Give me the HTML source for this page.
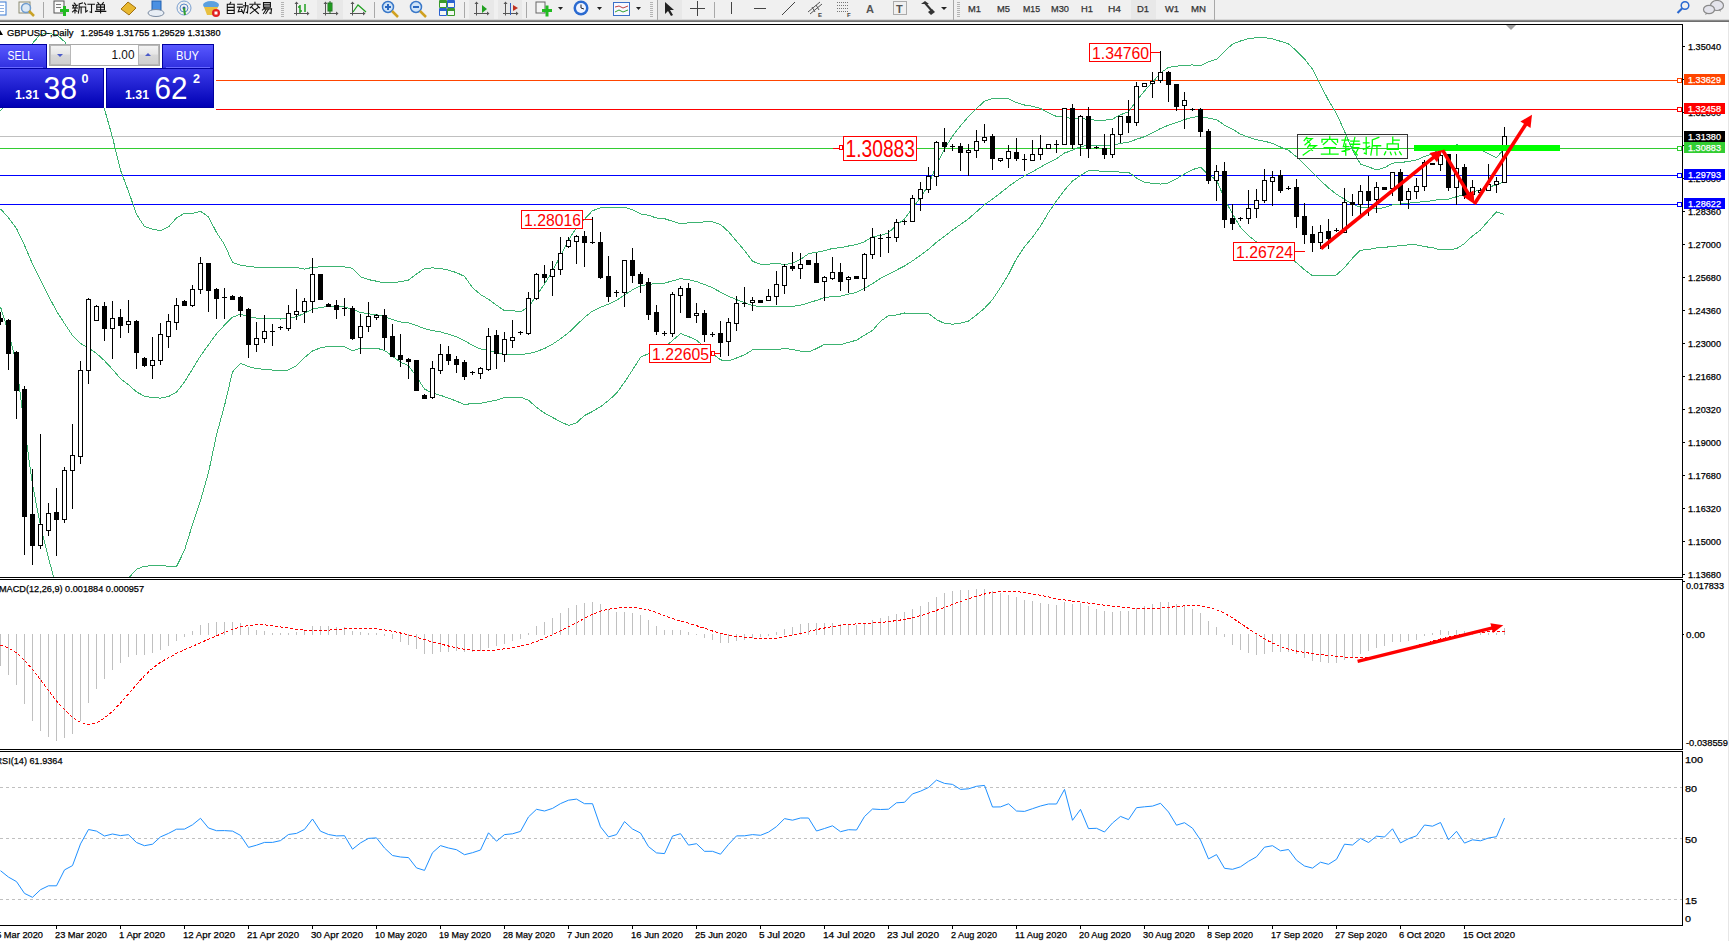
<!DOCTYPE html>
<html><head><meta charset="utf-8"><style>
html,body{margin:0;padding:0;background:#fff;width:1729px;height:941px;overflow:hidden}
svg{display:block}
text{font-family:"Liberation Sans",sans-serif}
</style></head><body>
<svg width="1729" height="941" viewBox="0 0 1729 941">
<rect x="0" y="0" width="1729" height="941" fill="#ffffff"/>
<rect x="1728" y="20" width="1" height="921" fill="#e6e6e6"/>
<rect x="0" y="24" width="1683" height="1" fill="#000" />
<rect x="0" y="577" width="1683" height="1" fill="#000" />
<rect x="1682" y="24" width="1" height="554" fill="#000"/>
<rect x="0" y="579" width="1683" height="1" fill="#000" />
<rect x="0" y="749" width="1683" height="1" fill="#000" />
<rect x="1682" y="579" width="1" height="171" fill="#000"/>
<rect x="0" y="751" width="1683" height="1" fill="#000" />
<rect x="0" y="925" width="1683" height="1" fill="#000" />
<rect x="1682" y="751" width="1" height="175" fill="#000"/>
<rect x="216" y="80" width="1466" height="1" fill="#ff4500" />
<rect x="1677.5" y="78.5" width="4" height="4" fill="#fff" stroke="#ff4500" stroke-width="1" shape-rendering="crispEdges"/>
<rect x="216" y="109" width="1466" height="1" fill="#ff0000" />
<rect x="1677.5" y="107.5" width="4" height="4" fill="#fff" stroke="#ff0000" stroke-width="1" shape-rendering="crispEdges"/>
<rect x="0" y="136" width="1682" height="1" fill="#c0c0c0" />
<rect x="0" y="148" width="1682" height="1" fill="#32cd32" />
<rect x="1677.5" y="146.5" width="4" height="4" fill="#fff" stroke="#32cd32" stroke-width="1" shape-rendering="crispEdges"/>
<rect x="0" y="175" width="1682" height="1" fill="#0000ff" />
<rect x="1677.5" y="173.5" width="4" height="4" fill="#fff" stroke="#0000ff" stroke-width="1" shape-rendering="crispEdges"/>
<rect x="0" y="204" width="1682" height="1" fill="#0000ff" />
<rect x="1677.5" y="202.5" width="4" height="4" fill="#fff" stroke="#0000ff" stroke-width="1" shape-rendering="crispEdges"/>
<defs><clipPath id="cm"><rect x="0" y="25" width="1682" height="552"/></clipPath><clipPath id="cmacd"><rect x="0" y="580" width="1682" height="169"/></clipPath><clipPath id="crsi"><rect x="0" y="752" width="1682" height="173"/></clipPath></defs>
<g shape-rendering="crispEdges" clip-path="url(#cm)">
<polyline points="0.5,110.7 8.5,102.8 16.5,93.3 24.5,63.2 32.5,43.3 40.5,34.3 48.5,33.5 56.5,34.6 64.5,41.6 72.5,52.8 80.5,66.2 88.5,77.2 96.5,90.4 104.5,109.1 112.5,137.3 120.5,170.1 128.5,191.4 136.5,214.3 144.5,226.5 152.5,229.1 160.5,230.8 168.5,226.9 176.5,218.0 184.5,213.2 192.5,213.5 200.5,211.2 208.5,216.9 216.5,232.4 224.5,244.5 232.5,262.5 240.5,265.2 248.5,266.3 256.5,267.3 264.5,267.3 272.5,267.6 280.5,267.7 288.5,267.3 296.5,267.4 304.5,269.2 312.5,267.3 320.5,266.9 328.5,266.6 336.5,266.8 344.5,267.0 352.5,268.2 360.5,276.7 368.5,279.6 376.5,281.2 384.5,282.9 392.5,282.8 400.5,281.7 408.5,280.1 416.5,274.0 424.5,268.5 432.5,267.9 440.5,268.4 448.5,270.2 456.5,272.6 464.5,276.4 472.5,287.6 480.5,294.5 488.5,299.3 496.5,305.2 504.5,310.7 512.5,310.6 520.5,311.8 528.5,307.0 536.5,295.6 544.5,284.0 552.5,271.0 560.5,255.9 568.5,240.3 576.5,227.4 584.5,219.3 592.5,210.7 600.5,207.9 608.5,207.6 616.5,207.9 624.5,207.3 632.5,209.7 640.5,213.9 648.5,215.3 656.5,218.0 664.5,218.7 672.5,221.3 680.5,223.8 688.5,222.8 696.5,223.0 704.5,221.7 712.5,221.9 720.5,224.4 728.5,231.7 736.5,241.2 744.5,250.4 752.5,261.2 760.5,264.3 768.5,264.2 776.5,263.2 784.5,264.6 792.5,263.2 800.5,259.5 808.5,253.7 816.5,252.2 824.5,250.8 832.5,248.4 840.5,247.7 848.5,246.0 856.5,244.5 864.5,241.7 872.5,236.7 880.5,235.5 888.5,232.7 896.5,225.2 904.5,219.0 912.5,208.1 920.5,197.4 928.5,185.0 936.5,164.8 944.5,149.0 952.5,136.0 960.5,125.8 968.5,116.6 976.5,108.5 984.5,101.2 992.5,98.5 1000.5,98.2 1008.5,98.7 1016.5,102.6 1024.5,105.0 1032.5,106.2 1040.5,108.5 1048.5,112.7 1056.5,116.5 1064.5,116.0 1072.5,119.4 1080.5,117.9 1088.5,119.8 1096.5,120.1 1104.5,120.3 1112.5,119.1 1120.5,114.7 1128.5,111.9 1136.5,100.6 1144.5,90.9 1152.5,82.3 1160.5,72.9 1168.5,67.4 1176.5,66.3 1184.5,65.1 1192.5,65.0 1200.5,65.7 1208.5,61.6 1216.5,59.4 1224.5,51.3 1232.5,44.1 1240.5,41.0 1248.5,38.7 1256.5,37.7 1264.5,37.7 1272.5,38.8 1280.5,41.3 1288.5,43.9 1296.5,50.9 1304.5,59.0 1312.5,69.1 1320.5,85.0 1328.5,100.4 1336.5,113.5 1344.5,131.3 1352.5,150.1 1360.5,164.1 1368.5,166.8 1376.5,169.9 1384.5,167.7 1392.5,163.1 1400.5,162.6 1408.5,161.4 1416.5,160.0 1424.5,156.4 1432.5,154.0 1440.5,148.3 1448.5,148.3 1456.5,144.8 1464.5,145.8 1472.5,148.1 1480.5,149.9 1488.5,153.8 1496.5,157.6 1504.5,148.4" fill="none" stroke="#3cb371" stroke-width="1" />
<polyline points="0.5,208.8 8.5,217.7 16.5,228.5 24.5,245.3 32.5,263.9 40.5,280.0 48.5,295.9 56.5,311.1 64.5,323.4 72.5,335.5 80.5,343.4 88.5,348.1 96.5,353.4 104.5,360.7 112.5,369.4 120.5,378.6 128.5,384.8 136.5,391.8 144.5,396.3 152.5,397.5 160.5,398.1 168.5,396.5 176.5,392.3 184.5,381.8 192.5,369.0 200.5,355.9 208.5,344.8 216.5,333.7 224.5,325.1 232.5,317.2 240.5,314.2 248.5,316.4 256.5,318.1 264.5,318.2 272.5,318.9 280.5,319.0 288.5,318.6 296.5,316.6 304.5,313.4 312.5,309.1 320.5,307.4 328.5,306.6 336.5,306.8 344.5,307.0 352.5,309.4 360.5,312.5 368.5,313.8 376.5,314.7 384.5,316.7 392.5,319.5 400.5,322.0 408.5,322.9 416.5,325.4 424.5,328.7 432.5,330.5 440.5,331.9 448.5,334.2 456.5,336.9 464.5,340.6 472.5,345.5 480.5,348.9 488.5,350.4 496.5,352.6 504.5,354.2 512.5,354.1 520.5,354.5 528.5,353.6 536.5,351.5 544.5,348.5 552.5,344.2 560.5,338.8 568.5,332.8 576.5,325.1 584.5,317.4 592.5,311.1 600.5,307.3 608.5,304.1 616.5,300.5 624.5,294.8 632.5,289.9 640.5,285.6 648.5,284.5 656.5,283.4 664.5,283.1 672.5,280.9 680.5,278.7 688.5,279.6 696.5,281.6 704.5,284.5 712.5,287.7 720.5,292.2 728.5,296.3 736.5,299.6 744.5,302.6 752.5,305.5 760.5,306.7 768.5,306.7 776.5,306.3 784.5,306.6 792.5,306.3 800.5,305.3 808.5,302.8 816.5,300.4 824.5,297.6 832.5,296.5 840.5,296.1 848.5,294.2 856.5,292.4 864.5,288.4 872.5,283.6 880.5,278.4 888.5,274.1 896.5,270.1 904.5,266.0 912.5,260.9 920.5,255.3 928.5,249.3 936.5,242.2 944.5,236.2 952.5,230.1 960.5,224.5 968.5,218.8 976.5,211.8 984.5,204.7 992.5,199.0 1000.5,192.9 1008.5,186.6 1016.5,180.7 1024.5,175.9 1032.5,171.7 1040.5,167.2 1048.5,162.6 1056.5,158.7 1064.5,153.0 1072.5,150.3 1080.5,146.6 1088.5,145.2 1096.5,145.4 1104.5,145.8 1112.5,145.2 1120.5,143.4 1128.5,142.1 1136.5,139.3 1144.5,136.7 1152.5,132.8 1160.5,128.5 1168.5,125.2 1176.5,122.5 1184.5,119.6 1192.5,117.3 1200.5,116.5 1208.5,118.2 1216.5,119.6 1224.5,125.1 1232.5,129.1 1240.5,134.2 1248.5,137.2 1256.5,139.8 1264.5,141.2 1272.5,143.4 1280.5,147.0 1288.5,150.3 1296.5,156.8 1304.5,164.4 1312.5,172.4 1320.5,180.4 1328.5,188.0 1336.5,194.2 1344.5,199.4 1352.5,204.2 1360.5,207.2 1368.5,208.1 1376.5,208.9 1384.5,207.5 1392.5,204.9 1400.5,204.0 1408.5,203.2 1416.5,202.4 1424.5,201.5 1432.5,200.8 1440.5,199.1 1448.5,199.1 1456.5,196.7 1464.5,194.7 1472.5,192.0 1480.5,189.9 1488.5,187.2 1496.5,184.8 1504.5,181.5" fill="none" stroke="#3cb371" stroke-width="1" />
<polyline points="0.5,306.8 8.5,332.6 16.5,363.7 24.5,427.4 32.5,484.4 40.5,525.7 48.5,558.2 56.5,587.7 64.5,605.2 72.5,618.2 80.5,620.6 88.5,619.0 96.5,616.5 104.5,612.2 112.5,601.5 120.5,587.1 128.5,578.2 136.5,569.3 144.5,566.1 152.5,565.9 160.5,565.5 168.5,566.2 176.5,566.6 184.5,550.3 192.5,524.5 200.5,500.6 208.5,472.6 216.5,435.0 224.5,405.6 232.5,371.9 240.5,363.2 248.5,366.6 256.5,368.8 264.5,369.2 272.5,370.1 280.5,370.3 288.5,370.0 296.5,365.7 304.5,357.6 312.5,351.0 320.5,347.8 328.5,346.5 336.5,346.7 344.5,346.9 352.5,350.7 360.5,348.3 368.5,348.1 376.5,348.2 384.5,350.4 392.5,356.2 400.5,362.2 408.5,365.6 416.5,376.8 424.5,389.0 432.5,393.2 440.5,395.3 448.5,398.2 456.5,401.1 464.5,404.7 472.5,403.3 480.5,403.4 488.5,401.6 496.5,400.1 504.5,397.6 512.5,397.7 520.5,397.2 528.5,400.2 536.5,407.4 544.5,413.0 552.5,417.4 560.5,421.7 568.5,425.4 576.5,422.9 584.5,415.5 592.5,411.5 600.5,406.7 608.5,400.6 616.5,393.2 624.5,382.2 632.5,370.0 640.5,357.3 648.5,353.7 656.5,348.7 664.5,347.4 672.5,340.5 680.5,333.6 688.5,336.5 696.5,340.2 704.5,347.2 712.5,353.5 720.5,359.9 728.5,360.8 736.5,358.0 744.5,354.8 752.5,349.9 760.5,349.2 768.5,349.2 776.5,349.5 784.5,348.6 792.5,349.4 800.5,351.2 808.5,352.0 816.5,348.6 824.5,344.4 832.5,344.6 840.5,344.6 848.5,342.4 856.5,340.2 864.5,335.1 872.5,330.5 880.5,321.3 888.5,315.6 896.5,315.0 904.5,313.0 912.5,313.7 920.5,313.2 928.5,313.6 936.5,319.6 944.5,323.4 952.5,324.2 960.5,323.2 968.5,321.0 976.5,315.0 984.5,308.3 992.5,299.6 1000.5,287.6 1008.5,274.5 1016.5,258.7 1024.5,246.8 1032.5,237.3 1040.5,226.0 1048.5,212.5 1056.5,200.9 1064.5,190.1 1072.5,181.1 1080.5,175.4 1088.5,170.6 1096.5,170.8 1104.5,171.4 1112.5,171.3 1120.5,172.2 1128.5,172.2 1136.5,178.0 1144.5,182.4 1152.5,183.3 1160.5,184.1 1168.5,182.9 1176.5,178.7 1184.5,174.0 1192.5,169.6 1200.5,167.2 1208.5,174.9 1216.5,179.8 1224.5,198.9 1232.5,214.1 1240.5,227.4 1248.5,235.7 1256.5,242.0 1264.5,244.7 1272.5,248.0 1280.5,252.7 1288.5,256.8 1296.5,262.7 1304.5,269.8 1312.5,275.6 1320.5,275.7 1328.5,275.7 1336.5,275.0 1344.5,267.5 1352.5,258.2 1360.5,250.2 1368.5,249.5 1376.5,248.0 1384.5,247.2 1392.5,246.7 1400.5,245.4 1408.5,244.9 1416.5,244.9 1424.5,246.6 1432.5,247.7 1440.5,249.9 1448.5,249.9 1456.5,248.6 1464.5,243.6 1472.5,235.9 1480.5,229.9 1488.5,220.6 1496.5,211.9 1504.5,214.5" fill="none" stroke="#3cb371" stroke-width="1" />
</g>
<g shape-rendering="crispEdges">
<rect x="0" y="312" width="1" height="13" fill="#000"/>
<rect x="-2" y="318" width="5" height="4" fill="#000"/>
<rect x="8" y="319" width="1" height="51" fill="#000"/>
<rect x="6" y="320" width="5" height="34" fill="#000"/>
<rect x="16" y="351" width="1" height="68" fill="#000"/>
<rect x="14" y="352" width="5" height="39" fill="#000"/>
<rect x="24" y="386" width="1" height="169" fill="#000"/>
<rect x="22" y="389" width="5" height="128" fill="#000"/>
<rect x="32" y="469" width="1" height="96" fill="#000"/>
<rect x="30" y="514" width="5" height="32" fill="#000"/>
<rect x="40" y="434" width="1" height="115" fill="#000"/>
<rect x="38.5" y="524.5" width="4" height="21" fill="#fff" stroke="#000" stroke-width="1"/>
<rect x="48" y="503" width="1" height="33" fill="#000"/>
<rect x="46.5" y="513.5" width="4" height="17" fill="#fff" stroke="#000" stroke-width="1"/>
<rect x="56" y="488" width="1" height="68" fill="#000"/>
<rect x="54" y="512" width="5" height="8" fill="#000"/>
<rect x="64" y="467" width="1" height="56" fill="#000"/>
<rect x="62.5" y="470.5" width="4" height="49" fill="#fff" stroke="#000" stroke-width="1"/>
<rect x="72" y="424" width="1" height="85" fill="#000"/>
<rect x="70.5" y="455.5" width="4" height="15" fill="#fff" stroke="#000" stroke-width="1"/>
<rect x="80" y="361" width="1" height="103" fill="#000"/>
<rect x="78.5" y="370.5" width="4" height="86" fill="#fff" stroke="#000" stroke-width="1"/>
<rect x="88" y="298" width="1" height="86" fill="#000"/>
<rect x="86.5" y="299.5" width="4" height="71" fill="#fff" stroke="#000" stroke-width="1"/>
<rect x="96" y="305" width="1" height="16" fill="#000"/>
<rect x="94.5" y="306.5" width="4" height="14" fill="#fff" stroke="#000" stroke-width="1"/>
<rect x="104" y="302" width="1" height="39" fill="#000"/>
<rect x="102" y="306" width="5" height="23" fill="#000"/>
<rect x="112" y="301" width="1" height="58" fill="#000"/>
<rect x="110.5" y="318.5" width="4" height="10" fill="#fff" stroke="#000" stroke-width="1"/>
<rect x="120" y="309" width="1" height="29" fill="#000"/>
<rect x="118" y="317" width="5" height="9" fill="#000"/>
<rect x="128" y="300" width="1" height="33" fill="#000"/>
<rect x="126.5" y="321.5" width="4" height="3" fill="#fff" stroke="#000" stroke-width="1"/>
<rect x="136" y="320" width="1" height="49" fill="#000"/>
<rect x="134" y="321" width="5" height="32" fill="#000"/>
<rect x="144" y="357" width="1" height="10" fill="#000"/>
<rect x="142" y="358" width="5" height="8" fill="#000"/>
<rect x="152" y="337" width="1" height="42" fill="#000"/>
<rect x="150.5" y="360.5" width="4" height="5" fill="#fff" stroke="#000" stroke-width="1"/>
<rect x="160" y="323" width="1" height="42" fill="#000"/>
<rect x="158.5" y="334.5" width="4" height="26" fill="#fff" stroke="#000" stroke-width="1"/>
<rect x="168" y="314" width="1" height="34" fill="#000"/>
<rect x="166.5" y="321.5" width="4" height="15" fill="#fff" stroke="#000" stroke-width="1"/>
<rect x="176" y="298" width="1" height="32" fill="#000"/>
<rect x="174.5" y="305.5" width="4" height="17" fill="#fff" stroke="#000" stroke-width="1"/>
<rect x="184" y="300" width="1" height="6" fill="#000"/>
<rect x="182" y="301" width="5" height="5" fill="#000"/>
<rect x="192" y="285" width="1" height="22" fill="#000"/>
<rect x="190.5" y="289.5" width="4" height="16" fill="#fff" stroke="#000" stroke-width="1"/>
<rect x="200" y="257" width="1" height="37" fill="#000"/>
<rect x="198.5" y="263.5" width="4" height="26" fill="#fff" stroke="#000" stroke-width="1"/>
<rect x="208" y="263" width="1" height="49" fill="#000"/>
<rect x="206" y="263" width="5" height="28" fill="#000"/>
<rect x="216" y="288" width="1" height="31" fill="#000"/>
<rect x="214" y="289" width="5" height="10" fill="#000"/>
<rect x="224" y="288" width="1" height="31" fill="#000"/>
<rect x="222" y="297" width="5" height="1" fill="#000"/>
<rect x="232" y="295" width="1" height="5" fill="#000"/>
<rect x="230" y="296" width="5" height="4" fill="#000"/>
<rect x="240" y="296" width="1" height="21" fill="#000"/>
<rect x="238" y="297" width="5" height="14" fill="#000"/>
<rect x="248" y="308" width="1" height="50" fill="#000"/>
<rect x="246" y="309" width="5" height="36" fill="#000"/>
<rect x="256" y="322" width="1" height="30" fill="#000"/>
<rect x="254.5" y="338.5" width="4" height="6" fill="#fff" stroke="#000" stroke-width="1"/>
<rect x="264" y="315" width="1" height="28" fill="#000"/>
<rect x="262.5" y="331.5" width="4" height="7" fill="#fff" stroke="#000" stroke-width="1"/>
<rect x="272" y="324" width="1" height="22" fill="#000"/>
<rect x="270" y="331" width="5" height="1" fill="#000"/>
<rect x="280" y="326" width="1" height="4" fill="#000"/>
<rect x="278" y="327" width="5" height="1" fill="#000"/>
<rect x="288" y="305" width="1" height="26" fill="#000"/>
<rect x="286.5" y="313.5" width="4" height="15" fill="#fff" stroke="#000" stroke-width="1"/>
<rect x="296" y="289" width="1" height="31" fill="#000"/>
<rect x="294.5" y="311.5" width="4" height="3" fill="#fff" stroke="#000" stroke-width="1"/>
<rect x="304" y="298" width="1" height="25" fill="#000"/>
<rect x="302.5" y="301.5" width="4" height="10" fill="#fff" stroke="#000" stroke-width="1"/>
<rect x="312" y="258" width="1" height="55" fill="#000"/>
<rect x="310.5" y="274.5" width="4" height="27" fill="#fff" stroke="#000" stroke-width="1"/>
<rect x="320" y="274" width="1" height="26" fill="#000"/>
<rect x="318" y="274" width="5" height="26" fill="#000"/>
<rect x="328" y="303" width="1" height="4" fill="#000"/>
<rect x="326" y="304" width="5" height="3" fill="#000"/>
<rect x="336" y="300" width="1" height="19" fill="#000"/>
<rect x="334" y="305" width="5" height="5" fill="#000"/>
<rect x="344" y="298" width="1" height="18" fill="#000"/>
<rect x="342" y="308" width="5" height="1" fill="#000"/>
<rect x="352" y="306" width="1" height="34" fill="#000"/>
<rect x="350" y="308" width="5" height="31" fill="#000"/>
<rect x="360" y="314" width="1" height="40" fill="#000"/>
<rect x="358.5" y="326.5" width="4" height="11" fill="#fff" stroke="#000" stroke-width="1"/>
<rect x="368" y="302" width="1" height="30" fill="#000"/>
<rect x="366.5" y="316.5" width="4" height="10" fill="#fff" stroke="#000" stroke-width="1"/>
<rect x="376" y="314" width="1" height="6" fill="#000"/>
<rect x="374.5" y="315.5" width="4" height="2" fill="#fff" stroke="#000" stroke-width="1"/>
<rect x="384" y="309" width="1" height="41" fill="#000"/>
<rect x="382" y="315" width="5" height="23" fill="#000"/>
<rect x="392" y="324" width="1" height="33" fill="#000"/>
<rect x="390" y="336" width="5" height="21" fill="#000"/>
<rect x="400" y="334" width="1" height="33" fill="#000"/>
<rect x="398" y="355" width="5" height="5" fill="#000"/>
<rect x="408" y="358" width="1" height="21" fill="#000"/>
<rect x="406" y="359" width="5" height="3" fill="#000"/>
<rect x="416" y="360" width="1" height="31" fill="#000"/>
<rect x="414" y="360" width="5" height="31" fill="#000"/>
<rect x="424" y="394" width="1" height="5" fill="#000"/>
<rect x="422" y="395" width="5" height="4" fill="#000"/>
<rect x="432" y="361" width="1" height="38" fill="#000"/>
<rect x="430.5" y="368.5" width="4" height="29" fill="#fff" stroke="#000" stroke-width="1"/>
<rect x="440" y="344" width="1" height="30" fill="#000"/>
<rect x="438.5" y="354.5" width="4" height="16" fill="#fff" stroke="#000" stroke-width="1"/>
<rect x="448" y="346" width="1" height="19" fill="#000"/>
<rect x="446" y="354" width="5" height="7" fill="#000"/>
<rect x="456" y="356" width="1" height="17" fill="#000"/>
<rect x="454" y="359" width="5" height="6" fill="#000"/>
<rect x="464" y="360" width="1" height="20" fill="#000"/>
<rect x="462" y="362" width="5" height="15" fill="#000"/>
<rect x="472" y="371" width="1" height="4" fill="#000"/>
<rect x="470" y="372" width="5" height="1" fill="#000"/>
<rect x="480" y="367" width="1" height="12" fill="#000"/>
<rect x="478.5" y="368.5" width="4" height="5" fill="#fff" stroke="#000" stroke-width="1"/>
<rect x="488" y="328" width="1" height="43" fill="#000"/>
<rect x="486.5" y="336.5" width="4" height="33" fill="#fff" stroke="#000" stroke-width="1"/>
<rect x="496" y="330" width="1" height="39" fill="#000"/>
<rect x="494" y="335" width="5" height="19" fill="#000"/>
<rect x="504" y="332" width="1" height="30" fill="#000"/>
<rect x="502.5" y="339.5" width="4" height="15" fill="#fff" stroke="#000" stroke-width="1"/>
<rect x="512" y="320" width="1" height="28" fill="#000"/>
<rect x="510.5" y="337.5" width="4" height="3" fill="#fff" stroke="#000" stroke-width="1"/>
<rect x="520" y="331" width="1" height="4" fill="#000"/>
<rect x="518" y="332" width="5" height="1" fill="#000"/>
<rect x="528" y="292" width="1" height="43" fill="#000"/>
<rect x="526.5" y="298.5" width="4" height="35" fill="#fff" stroke="#000" stroke-width="1"/>
<rect x="536" y="273" width="1" height="27" fill="#000"/>
<rect x="534.5" y="274.5" width="4" height="24" fill="#fff" stroke="#000" stroke-width="1"/>
<rect x="544" y="265" width="1" height="18" fill="#000"/>
<rect x="542" y="274" width="5" height="4" fill="#000"/>
<rect x="552" y="261" width="1" height="35" fill="#000"/>
<rect x="550.5" y="269.5" width="4" height="7" fill="#fff" stroke="#000" stroke-width="1"/>
<rect x="560" y="237" width="1" height="38" fill="#000"/>
<rect x="558.5" y="253.5" width="4" height="16" fill="#fff" stroke="#000" stroke-width="1"/>
<rect x="568" y="237" width="1" height="11" fill="#000"/>
<rect x="566.5" y="240.5" width="4" height="6" fill="#fff" stroke="#000" stroke-width="1"/>
<rect x="576" y="235" width="1" height="29" fill="#000"/>
<rect x="574.5" y="236.5" width="4" height="5" fill="#fff" stroke="#000" stroke-width="1"/>
<rect x="584" y="231" width="1" height="36" fill="#000"/>
<rect x="582" y="236" width="5" height="7" fill="#000"/>
<rect x="592" y="217" width="1" height="27" fill="#000"/>
<rect x="590" y="242" width="5" height="1" fill="#000"/>
<rect x="600" y="232" width="1" height="47" fill="#000"/>
<rect x="598" y="242" width="5" height="36" fill="#000"/>
<rect x="608" y="256" width="1" height="46" fill="#000"/>
<rect x="606" y="276" width="5" height="21" fill="#000"/>
<rect x="616" y="290" width="1" height="7" fill="#000"/>
<rect x="614" y="292" width="5" height="1" fill="#000"/>
<rect x="624" y="260" width="1" height="47" fill="#000"/>
<rect x="622.5" y="260.5" width="4" height="32" fill="#fff" stroke="#000" stroke-width="1"/>
<rect x="632" y="248" width="1" height="35" fill="#000"/>
<rect x="630" y="260" width="5" height="16" fill="#000"/>
<rect x="640" y="272" width="1" height="21" fill="#000"/>
<rect x="638" y="274" width="5" height="10" fill="#000"/>
<rect x="648" y="278" width="1" height="42" fill="#000"/>
<rect x="646" y="282" width="5" height="33" fill="#000"/>
<rect x="656" y="305" width="1" height="30" fill="#000"/>
<rect x="654" y="312" width="5" height="20" fill="#000"/>
<rect x="664" y="331" width="1" height="5" fill="#000"/>
<rect x="662" y="333" width="5" height="1" fill="#000"/>
<rect x="672" y="292" width="1" height="45" fill="#000"/>
<rect x="670.5" y="294.5" width="4" height="39" fill="#fff" stroke="#000" stroke-width="1"/>
<rect x="680" y="286" width="1" height="27" fill="#000"/>
<rect x="678.5" y="288.5" width="4" height="7" fill="#fff" stroke="#000" stroke-width="1"/>
<rect x="688" y="283" width="1" height="35" fill="#000"/>
<rect x="686" y="288" width="5" height="30" fill="#000"/>
<rect x="696" y="303" width="1" height="20" fill="#000"/>
<rect x="694.5" y="313.5" width="4" height="2" fill="#fff" stroke="#000" stroke-width="1"/>
<rect x="704" y="310" width="1" height="32" fill="#000"/>
<rect x="702" y="313" width="5" height="22" fill="#000"/>
<rect x="712" y="332" width="1" height="5" fill="#000"/>
<rect x="710" y="334" width="5" height="1" fill="#000"/>
<rect x="720" y="321" width="1" height="36" fill="#000"/>
<rect x="718" y="333" width="5" height="10" fill="#000"/>
<rect x="728" y="318" width="1" height="38" fill="#000"/>
<rect x="726.5" y="322.5" width="4" height="19" fill="#fff" stroke="#000" stroke-width="1"/>
<rect x="736" y="296" width="1" height="35" fill="#000"/>
<rect x="734.5" y="303.5" width="4" height="20" fill="#fff" stroke="#000" stroke-width="1"/>
<rect x="744" y="287" width="1" height="20" fill="#000"/>
<rect x="742" y="303" width="5" height="1" fill="#000"/>
<rect x="752" y="297" width="1" height="14" fill="#000"/>
<rect x="750.5" y="300.5" width="4" height="2" fill="#fff" stroke="#000" stroke-width="1"/>
<rect x="760" y="300" width="1" height="3" fill="#000"/>
<rect x="758" y="300" width="5" height="3" fill="#000"/>
<rect x="768" y="289" width="1" height="12" fill="#000"/>
<rect x="766.5" y="296.5" width="4" height="4" fill="#fff" stroke="#000" stroke-width="1"/>
<rect x="776" y="271" width="1" height="34" fill="#000"/>
<rect x="774.5" y="284.5" width="4" height="12" fill="#fff" stroke="#000" stroke-width="1"/>
<rect x="784" y="264" width="1" height="30" fill="#000"/>
<rect x="782.5" y="266.5" width="4" height="19" fill="#fff" stroke="#000" stroke-width="1"/>
<rect x="792" y="252" width="1" height="19" fill="#000"/>
<rect x="790" y="266" width="5" height="3" fill="#000"/>
<rect x="800" y="253" width="1" height="26" fill="#000"/>
<rect x="798.5" y="264.5" width="4" height="4" fill="#fff" stroke="#000" stroke-width="1"/>
<rect x="808" y="260" width="1" height="5" fill="#000"/>
<rect x="806" y="260" width="5" height="5" fill="#000"/>
<rect x="816" y="253" width="1" height="30" fill="#000"/>
<rect x="814" y="263" width="5" height="20" fill="#000"/>
<rect x="824" y="276" width="1" height="25" fill="#000"/>
<rect x="822.5" y="277.5" width="4" height="4" fill="#fff" stroke="#000" stroke-width="1"/>
<rect x="832" y="257" width="1" height="23" fill="#000"/>
<rect x="830.5" y="272.5" width="4" height="6" fill="#fff" stroke="#000" stroke-width="1"/>
<rect x="840" y="263" width="1" height="28" fill="#000"/>
<rect x="838" y="272" width="5" height="10" fill="#000"/>
<rect x="848" y="276" width="1" height="17" fill="#000"/>
<rect x="846.5" y="277.5" width="4" height="2" fill="#fff" stroke="#000" stroke-width="1"/>
<rect x="856" y="276" width="1" height="3" fill="#000"/>
<rect x="854" y="276" width="5" height="3" fill="#000"/>
<rect x="864" y="253" width="1" height="38" fill="#000"/>
<rect x="862.5" y="254.5" width="4" height="24" fill="#fff" stroke="#000" stroke-width="1"/>
<rect x="872" y="228" width="1" height="31" fill="#000"/>
<rect x="870.5" y="237.5" width="4" height="17" fill="#fff" stroke="#000" stroke-width="1"/>
<rect x="880" y="234" width="1" height="23" fill="#000"/>
<rect x="878" y="238" width="5" height="1" fill="#000"/>
<rect x="888" y="230" width="1" height="23" fill="#000"/>
<rect x="886" y="237" width="5" height="1" fill="#000"/>
<rect x="896" y="219" width="1" height="23" fill="#000"/>
<rect x="894.5" y="222.5" width="4" height="15" fill="#fff" stroke="#000" stroke-width="1"/>
<rect x="904" y="220" width="1" height="5" fill="#000"/>
<rect x="902" y="221" width="5" height="1" fill="#000"/>
<rect x="912" y="195" width="1" height="27" fill="#000"/>
<rect x="910.5" y="198.5" width="4" height="23" fill="#fff" stroke="#000" stroke-width="1"/>
<rect x="920" y="182" width="1" height="29" fill="#000"/>
<rect x="918.5" y="189.5" width="4" height="9" fill="#fff" stroke="#000" stroke-width="1"/>
<rect x="928" y="167" width="1" height="26" fill="#000"/>
<rect x="926.5" y="176.5" width="4" height="13" fill="#fff" stroke="#000" stroke-width="1"/>
<rect x="936" y="141" width="1" height="45" fill="#000"/>
<rect x="934.5" y="142.5" width="4" height="34" fill="#fff" stroke="#000" stroke-width="1"/>
<rect x="944" y="128" width="1" height="24" fill="#000"/>
<rect x="942" y="142" width="5" height="5" fill="#000"/>
<rect x="952" y="144" width="1" height="7" fill="#000"/>
<rect x="950" y="146" width="5" height="1" fill="#000"/>
<rect x="960" y="143" width="1" height="28" fill="#000"/>
<rect x="958" y="146" width="5" height="7" fill="#000"/>
<rect x="968" y="144" width="1" height="32" fill="#000"/>
<rect x="966.5" y="150.5" width="4" height="2" fill="#fff" stroke="#000" stroke-width="1"/>
<rect x="976" y="130" width="1" height="28" fill="#000"/>
<rect x="974.5" y="141.5" width="4" height="9" fill="#fff" stroke="#000" stroke-width="1"/>
<rect x="984" y="124" width="1" height="19" fill="#000"/>
<rect x="982.5" y="137.5" width="4" height="3" fill="#fff" stroke="#000" stroke-width="1"/>
<rect x="992" y="134" width="1" height="36" fill="#000"/>
<rect x="990" y="136" width="5" height="23" fill="#000"/>
<rect x="1000" y="158" width="1" height="4" fill="#000"/>
<rect x="998.5" y="158.5" width="4" height="2" fill="#fff" stroke="#000" stroke-width="1"/>
<rect x="1008" y="145" width="1" height="23" fill="#000"/>
<rect x="1006.5" y="151.5" width="4" height="7" fill="#fff" stroke="#000" stroke-width="1"/>
<rect x="1016" y="138" width="1" height="23" fill="#000"/>
<rect x="1014" y="152" width="5" height="7" fill="#000"/>
<rect x="1024" y="154" width="1" height="17" fill="#000"/>
<rect x="1022" y="159" width="5" height="1" fill="#000"/>
<rect x="1032" y="140" width="1" height="21" fill="#000"/>
<rect x="1030.5" y="154.5" width="4" height="6" fill="#fff" stroke="#000" stroke-width="1"/>
<rect x="1040" y="135" width="1" height="25" fill="#000"/>
<rect x="1038.5" y="148.5" width="4" height="6" fill="#fff" stroke="#000" stroke-width="1"/>
<rect x="1048" y="144" width="1" height="5" fill="#000"/>
<rect x="1046.5" y="144.5" width="4" height="4" fill="#fff" stroke="#000" stroke-width="1"/>
<rect x="1056" y="140" width="1" height="13" fill="#000"/>
<rect x="1054" y="144" width="5" height="1" fill="#000"/>
<rect x="1064" y="108" width="1" height="37" fill="#000"/>
<rect x="1062.5" y="108.5" width="4" height="36" fill="#fff" stroke="#000" stroke-width="1"/>
<rect x="1072" y="104" width="1" height="45" fill="#000"/>
<rect x="1070" y="108" width="5" height="37" fill="#000"/>
<rect x="1080" y="115" width="1" height="41" fill="#000"/>
<rect x="1078.5" y="116.5" width="4" height="28" fill="#fff" stroke="#000" stroke-width="1"/>
<rect x="1088" y="107" width="1" height="51" fill="#000"/>
<rect x="1086" y="116" width="5" height="33" fill="#000"/>
<rect x="1096" y="146" width="1" height="3" fill="#000"/>
<rect x="1094" y="147" width="5" height="1" fill="#000"/>
<rect x="1104" y="134" width="1" height="25" fill="#000"/>
<rect x="1102" y="148" width="5" height="7" fill="#000"/>
<rect x="1112" y="128" width="1" height="30" fill="#000"/>
<rect x="1110.5" y="134.5" width="4" height="20" fill="#fff" stroke="#000" stroke-width="1"/>
<rect x="1120" y="116" width="1" height="27" fill="#000"/>
<rect x="1118.5" y="116.5" width="4" height="18" fill="#fff" stroke="#000" stroke-width="1"/>
<rect x="1128" y="100" width="1" height="33" fill="#000"/>
<rect x="1126" y="116" width="5" height="7" fill="#000"/>
<rect x="1136" y="82" width="1" height="44" fill="#000"/>
<rect x="1134.5" y="86.5" width="4" height="36" fill="#fff" stroke="#000" stroke-width="1"/>
<rect x="1144" y="83" width="1" height="4" fill="#000"/>
<rect x="1142.5" y="83.5" width="4" height="3" fill="#fff" stroke="#000" stroke-width="1"/>
<rect x="1152" y="72" width="1" height="26" fill="#000"/>
<rect x="1150.5" y="81.5" width="4" height="2" fill="#fff" stroke="#000" stroke-width="1"/>
<rect x="1160" y="51" width="1" height="32" fill="#000"/>
<rect x="1158.5" y="72.5" width="4" height="8" fill="#fff" stroke="#000" stroke-width="1"/>
<rect x="1168" y="71" width="1" height="31" fill="#000"/>
<rect x="1166" y="72" width="5" height="13" fill="#000"/>
<rect x="1176" y="84" width="1" height="27" fill="#000"/>
<rect x="1174" y="84" width="5" height="23" fill="#000"/>
<rect x="1184" y="92" width="1" height="37" fill="#000"/>
<rect x="1182.5" y="100.5" width="4" height="5" fill="#fff" stroke="#000" stroke-width="1"/>
<rect x="1192" y="108" width="1" height="3" fill="#000"/>
<rect x="1190" y="109" width="5" height="1" fill="#000"/>
<rect x="1200" y="108" width="1" height="29" fill="#000"/>
<rect x="1198" y="109" width="5" height="23" fill="#000"/>
<rect x="1208" y="129" width="1" height="55" fill="#000"/>
<rect x="1206" y="131" width="5" height="50" fill="#000"/>
<rect x="1216" y="165" width="1" height="36" fill="#000"/>
<rect x="1214.5" y="171.5" width="4" height="9" fill="#fff" stroke="#000" stroke-width="1"/>
<rect x="1224" y="162" width="1" height="66" fill="#000"/>
<rect x="1222" y="171" width="5" height="49" fill="#000"/>
<rect x="1232" y="204" width="1" height="26" fill="#000"/>
<rect x="1230" y="218" width="5" height="6" fill="#000"/>
<rect x="1240" y="217" width="1" height="4" fill="#000"/>
<rect x="1238" y="218" width="5" height="1" fill="#000"/>
<rect x="1248" y="190" width="1" height="34" fill="#000"/>
<rect x="1246.5" y="208.5" width="4" height="10" fill="#fff" stroke="#000" stroke-width="1"/>
<rect x="1256" y="189" width="1" height="29" fill="#000"/>
<rect x="1254.5" y="200.5" width="4" height="8" fill="#fff" stroke="#000" stroke-width="1"/>
<rect x="1264" y="169" width="1" height="34" fill="#000"/>
<rect x="1262.5" y="180.5" width="4" height="20" fill="#fff" stroke="#000" stroke-width="1"/>
<rect x="1272" y="171" width="1" height="35" fill="#000"/>
<rect x="1270.5" y="177.5" width="4" height="4" fill="#fff" stroke="#000" stroke-width="1"/>
<rect x="1280" y="170" width="1" height="23" fill="#000"/>
<rect x="1278" y="175" width="5" height="16" fill="#000"/>
<rect x="1288" y="186" width="1" height="4" fill="#000"/>
<rect x="1286" y="188" width="5" height="1" fill="#000"/>
<rect x="1296" y="179" width="1" height="49" fill="#000"/>
<rect x="1294" y="187" width="5" height="30" fill="#000"/>
<rect x="1304" y="203" width="1" height="41" fill="#000"/>
<rect x="1302" y="216" width="5" height="19" fill="#000"/>
<rect x="1312" y="226" width="1" height="26" fill="#000"/>
<rect x="1310" y="234" width="5" height="9" fill="#000"/>
<rect x="1320" y="225" width="1" height="24" fill="#000"/>
<rect x="1318.5" y="232.5" width="4" height="10" fill="#fff" stroke="#000" stroke-width="1"/>
<rect x="1328" y="219" width="1" height="30" fill="#000"/>
<rect x="1326" y="231" width="5" height="8" fill="#000"/>
<rect x="1336" y="228" width="1" height="4" fill="#000"/>
<rect x="1334" y="230" width="5" height="1" fill="#000"/>
<rect x="1344" y="188" width="1" height="45" fill="#000"/>
<rect x="1342.5" y="202.5" width="4" height="30" fill="#fff" stroke="#000" stroke-width="1"/>
<rect x="1352" y="194" width="1" height="22" fill="#000"/>
<rect x="1350" y="202" width="5" height="3" fill="#000"/>
<rect x="1360" y="185" width="1" height="31" fill="#000"/>
<rect x="1358.5" y="191.5" width="4" height="13" fill="#fff" stroke="#000" stroke-width="1"/>
<rect x="1368" y="176" width="1" height="40" fill="#000"/>
<rect x="1366" y="191" width="5" height="10" fill="#000"/>
<rect x="1376" y="182" width="1" height="31" fill="#000"/>
<rect x="1374.5" y="187.5" width="4" height="12" fill="#fff" stroke="#000" stroke-width="1"/>
<rect x="1384" y="187" width="1" height="3" fill="#000"/>
<rect x="1382" y="187" width="5" height="3" fill="#000"/>
<rect x="1392" y="172" width="1" height="24" fill="#000"/>
<rect x="1390.5" y="172.5" width="4" height="16" fill="#fff" stroke="#000" stroke-width="1"/>
<rect x="1400" y="169" width="1" height="36" fill="#000"/>
<rect x="1398" y="172" width="5" height="29" fill="#000"/>
<rect x="1408" y="188" width="1" height="21" fill="#000"/>
<rect x="1406.5" y="191.5" width="4" height="8" fill="#fff" stroke="#000" stroke-width="1"/>
<rect x="1416" y="178" width="1" height="21" fill="#000"/>
<rect x="1414.5" y="186.5" width="4" height="5" fill="#fff" stroke="#000" stroke-width="1"/>
<rect x="1424" y="160" width="1" height="31" fill="#000"/>
<rect x="1422.5" y="162.5" width="4" height="24" fill="#fff" stroke="#000" stroke-width="1"/>
<rect x="1432" y="163" width="1" height="2" fill="#000"/>
<rect x="1430" y="163" width="5" height="2" fill="#000"/>
<rect x="1440" y="152" width="1" height="19" fill="#000"/>
<rect x="1438.5" y="155.5" width="4" height="9" fill="#fff" stroke="#000" stroke-width="1"/>
<rect x="1448" y="154" width="1" height="37" fill="#000"/>
<rect x="1446" y="154" width="5" height="34" fill="#000"/>
<rect x="1456" y="154" width="1" height="51" fill="#000"/>
<rect x="1454.5" y="168.5" width="4" height="19" fill="#fff" stroke="#000" stroke-width="1"/>
<rect x="1464" y="164" width="1" height="35" fill="#000"/>
<rect x="1462" y="167" width="5" height="29" fill="#000"/>
<rect x="1472" y="180" width="1" height="19" fill="#000"/>
<rect x="1470.5" y="187.5" width="4" height="7" fill="#fff" stroke="#000" stroke-width="1"/>
<rect x="1480" y="188" width="1" height="5" fill="#000"/>
<rect x="1478.5" y="190.5" width="4" height="2" fill="#fff" stroke="#000" stroke-width="1"/>
<rect x="1488" y="164" width="1" height="27" fill="#000"/>
<rect x="1486.5" y="184.5" width="4" height="6" fill="#fff" stroke="#000" stroke-width="1"/>
<rect x="1496" y="177" width="1" height="16" fill="#000"/>
<rect x="1494.5" y="181.5" width="4" height="3" fill="#fff" stroke="#000" stroke-width="1"/>
<rect x="1504" y="127" width="1" height="56" fill="#000"/>
<rect x="1502.5" y="136.5" width="4" height="46" fill="#fff" stroke="#000" stroke-width="1"/>
</g>
<g shape-rendering="crispEdges" clip-path="url(#cmacd)">
<rect x="0" y="634" width="1" height="32" fill="#c0c0c0"/>
<rect x="8" y="634" width="1" height="41" fill="#c0c0c0"/>
<rect x="16" y="634" width="1" height="51" fill="#c0c0c0"/>
<rect x="24" y="634" width="1" height="70" fill="#c0c0c0"/>
<rect x="32" y="634" width="1" height="87" fill="#c0c0c0"/>
<rect x="40" y="634" width="1" height="97" fill="#c0c0c0"/>
<rect x="48" y="634" width="1" height="103" fill="#c0c0c0"/>
<rect x="56" y="634" width="1" height="107" fill="#c0c0c0"/>
<rect x="64" y="634" width="1" height="104" fill="#c0c0c0"/>
<rect x="72" y="634" width="1" height="100" fill="#c0c0c0"/>
<rect x="80" y="634" width="1" height="87" fill="#c0c0c0"/>
<rect x="88" y="634" width="1" height="69" fill="#c0c0c0"/>
<rect x="96" y="634" width="1" height="55" fill="#c0c0c0"/>
<rect x="104" y="634" width="1" height="45" fill="#c0c0c0"/>
<rect x="112" y="634" width="1" height="36" fill="#c0c0c0"/>
<rect x="120" y="634" width="1" height="29" fill="#c0c0c0"/>
<rect x="128" y="634" width="1" height="23" fill="#c0c0c0"/>
<rect x="136" y="634" width="1" height="21" fill="#c0c0c0"/>
<rect x="144" y="634" width="1" height="21" fill="#c0c0c0"/>
<rect x="152" y="634" width="1" height="19" fill="#c0c0c0"/>
<rect x="160" y="634" width="1" height="16" fill="#c0c0c0"/>
<rect x="168" y="634" width="1" height="12" fill="#c0c0c0"/>
<rect x="176" y="634" width="1" height="7" fill="#c0c0c0"/>
<rect x="184" y="634" width="1" height="3" fill="#c0c0c0"/>
<rect x="192" y="631" width="1" height="4" fill="#c0c0c0"/>
<rect x="200" y="625" width="1" height="10" fill="#c0c0c0"/>
<rect x="208" y="623" width="1" height="12" fill="#c0c0c0"/>
<rect x="216" y="622" width="1" height="13" fill="#c0c0c0"/>
<rect x="224" y="622" width="1" height="13" fill="#c0c0c0"/>
<rect x="232" y="622" width="1" height="13" fill="#c0c0c0"/>
<rect x="240" y="623" width="1" height="12" fill="#c0c0c0"/>
<rect x="248" y="627" width="1" height="8" fill="#c0c0c0"/>
<rect x="256" y="630" width="1" height="5" fill="#c0c0c0"/>
<rect x="264" y="631" width="1" height="4" fill="#c0c0c0"/>
<rect x="272" y="633" width="1" height="2" fill="#c0c0c0"/>
<rect x="280" y="633" width="1" height="2" fill="#c0c0c0"/>
<rect x="288" y="633" width="1" height="2" fill="#c0c0c0"/>
<rect x="296" y="632" width="1" height="3" fill="#c0c0c0"/>
<rect x="304" y="630" width="1" height="5" fill="#c0c0c0"/>
<rect x="312" y="626" width="1" height="9" fill="#c0c0c0"/>
<rect x="320" y="626" width="1" height="9" fill="#c0c0c0"/>
<rect x="328" y="626" width="1" height="9" fill="#c0c0c0"/>
<rect x="336" y="627" width="1" height="8" fill="#c0c0c0"/>
<rect x="344" y="627" width="1" height="8" fill="#c0c0c0"/>
<rect x="352" y="631" width="1" height="4" fill="#c0c0c0"/>
<rect x="360" y="632" width="1" height="3" fill="#c0c0c0"/>
<rect x="368" y="633" width="1" height="2" fill="#c0c0c0"/>
<rect x="376" y="633" width="1" height="2" fill="#c0c0c0"/>
<rect x="384" y="634" width="1" height="2" fill="#c0c0c0"/>
<rect x="392" y="634" width="1" height="5" fill="#c0c0c0"/>
<rect x="400" y="634" width="1" height="8" fill="#c0c0c0"/>
<rect x="408" y="634" width="1" height="11" fill="#c0c0c0"/>
<rect x="416" y="634" width="1" height="15" fill="#c0c0c0"/>
<rect x="424" y="634" width="1" height="20" fill="#c0c0c0"/>
<rect x="432" y="634" width="1" height="20" fill="#c0c0c0"/>
<rect x="440" y="634" width="1" height="18" fill="#c0c0c0"/>
<rect x="448" y="634" width="1" height="18" fill="#c0c0c0"/>
<rect x="456" y="634" width="1" height="17" fill="#c0c0c0"/>
<rect x="464" y="634" width="1" height="18" fill="#c0c0c0"/>
<rect x="472" y="634" width="1" height="18" fill="#c0c0c0"/>
<rect x="480" y="634" width="1" height="17" fill="#c0c0c0"/>
<rect x="488" y="634" width="1" height="14" fill="#c0c0c0"/>
<rect x="496" y="634" width="1" height="12" fill="#c0c0c0"/>
<rect x="504" y="634" width="1" height="10" fill="#c0c0c0"/>
<rect x="512" y="634" width="1" height="7" fill="#c0c0c0"/>
<rect x="520" y="634" width="1" height="5" fill="#c0c0c0"/>
<rect x="528" y="633" width="1" height="2" fill="#c0c0c0"/>
<rect x="536" y="626" width="1" height="9" fill="#c0c0c0"/>
<rect x="544" y="622" width="1" height="13" fill="#c0c0c0"/>
<rect x="552" y="618" width="1" height="17" fill="#c0c0c0"/>
<rect x="560" y="613" width="1" height="22" fill="#c0c0c0"/>
<rect x="568" y="608" width="1" height="27" fill="#c0c0c0"/>
<rect x="576" y="605" width="1" height="30" fill="#c0c0c0"/>
<rect x="584" y="603" width="1" height="32" fill="#c0c0c0"/>
<rect x="592" y="602" width="1" height="33" fill="#c0c0c0"/>
<rect x="600" y="604" width="1" height="31" fill="#c0c0c0"/>
<rect x="608" y="609" width="1" height="26" fill="#c0c0c0"/>
<rect x="616" y="612" width="1" height="23" fill="#c0c0c0"/>
<rect x="624" y="612" width="1" height="23" fill="#c0c0c0"/>
<rect x="632" y="613" width="1" height="22" fill="#c0c0c0"/>
<rect x="640" y="615" width="1" height="20" fill="#c0c0c0"/>
<rect x="648" y="620" width="1" height="15" fill="#c0c0c0"/>
<rect x="656" y="626" width="1" height="9" fill="#c0c0c0"/>
<rect x="664" y="630" width="1" height="5" fill="#c0c0c0"/>
<rect x="672" y="630" width="1" height="5" fill="#c0c0c0"/>
<rect x="680" y="630" width="1" height="5" fill="#c0c0c0"/>
<rect x="688" y="632" width="1" height="3" fill="#c0c0c0"/>
<rect x="696" y="634" width="1" height="1" fill="#c0c0c0"/>
<rect x="704" y="634" width="1" height="4" fill="#c0c0c0"/>
<rect x="712" y="634" width="1" height="6" fill="#c0c0c0"/>
<rect x="720" y="634" width="1" height="9" fill="#c0c0c0"/>
<rect x="728" y="634" width="1" height="9" fill="#c0c0c0"/>
<rect x="736" y="634" width="1" height="7" fill="#c0c0c0"/>
<rect x="744" y="634" width="1" height="6" fill="#c0c0c0"/>
<rect x="752" y="634" width="1" height="4" fill="#c0c0c0"/>
<rect x="760" y="634" width="1" height="3" fill="#c0c0c0"/>
<rect x="768" y="634" width="1" height="2" fill="#c0c0c0"/>
<rect x="776" y="632" width="1" height="3" fill="#c0c0c0"/>
<rect x="784" y="629" width="1" height="6" fill="#c0c0c0"/>
<rect x="792" y="627" width="1" height="8" fill="#c0c0c0"/>
<rect x="800" y="624" width="1" height="11" fill="#c0c0c0"/>
<rect x="808" y="623" width="1" height="12" fill="#c0c0c0"/>
<rect x="816" y="623" width="1" height="12" fill="#c0c0c0"/>
<rect x="824" y="623" width="1" height="12" fill="#c0c0c0"/>
<rect x="832" y="623" width="1" height="12" fill="#c0c0c0"/>
<rect x="840" y="624" width="1" height="11" fill="#c0c0c0"/>
<rect x="848" y="624" width="1" height="11" fill="#c0c0c0"/>
<rect x="856" y="625" width="1" height="10" fill="#c0c0c0"/>
<rect x="864" y="623" width="1" height="12" fill="#c0c0c0"/>
<rect x="872" y="620" width="1" height="15" fill="#c0c0c0"/>
<rect x="880" y="618" width="1" height="17" fill="#c0c0c0"/>
<rect x="888" y="616" width="1" height="19" fill="#c0c0c0"/>
<rect x="896" y="614" width="1" height="21" fill="#c0c0c0"/>
<rect x="904" y="612" width="1" height="23" fill="#c0c0c0"/>
<rect x="912" y="609" width="1" height="26" fill="#c0c0c0"/>
<rect x="920" y="606" width="1" height="29" fill="#c0c0c0"/>
<rect x="928" y="602" width="1" height="33" fill="#c0c0c0"/>
<rect x="936" y="597" width="1" height="38" fill="#c0c0c0"/>
<rect x="944" y="593" width="1" height="42" fill="#c0c0c0"/>
<rect x="952" y="591" width="1" height="44" fill="#c0c0c0"/>
<rect x="960" y="590" width="1" height="45" fill="#c0c0c0"/>
<rect x="968" y="590" width="1" height="45" fill="#c0c0c0"/>
<rect x="976" y="589" width="1" height="46" fill="#c0c0c0"/>
<rect x="984" y="589" width="1" height="46" fill="#c0c0c0"/>
<rect x="992" y="591" width="1" height="44" fill="#c0c0c0"/>
<rect x="1000" y="593" width="1" height="42" fill="#c0c0c0"/>
<rect x="1008" y="595" width="1" height="40" fill="#c0c0c0"/>
<rect x="1016" y="597" width="1" height="38" fill="#c0c0c0"/>
<rect x="1024" y="600" width="1" height="35" fill="#c0c0c0"/>
<rect x="1032" y="601" width="1" height="34" fill="#c0c0c0"/>
<rect x="1040" y="603" width="1" height="32" fill="#c0c0c0"/>
<rect x="1048" y="604" width="1" height="31" fill="#c0c0c0"/>
<rect x="1056" y="605" width="1" height="30" fill="#c0c0c0"/>
<rect x="1064" y="602" width="1" height="33" fill="#c0c0c0"/>
<rect x="1072" y="604" width="1" height="31" fill="#c0c0c0"/>
<rect x="1080" y="603" width="1" height="32" fill="#c0c0c0"/>
<rect x="1088" y="606" width="1" height="29" fill="#c0c0c0"/>
<rect x="1096" y="609" width="1" height="26" fill="#c0c0c0"/>
<rect x="1104" y="611" width="1" height="24" fill="#c0c0c0"/>
<rect x="1112" y="612" width="1" height="23" fill="#c0c0c0"/>
<rect x="1120" y="611" width="1" height="24" fill="#c0c0c0"/>
<rect x="1128" y="611" width="1" height="24" fill="#c0c0c0"/>
<rect x="1136" y="608" width="1" height="27" fill="#c0c0c0"/>
<rect x="1144" y="606" width="1" height="29" fill="#c0c0c0"/>
<rect x="1152" y="604" width="1" height="31" fill="#c0c0c0"/>
<rect x="1160" y="602" width="1" height="33" fill="#c0c0c0"/>
<rect x="1168" y="602" width="1" height="33" fill="#c0c0c0"/>
<rect x="1176" y="604" width="1" height="31" fill="#c0c0c0"/>
<rect x="1184" y="606" width="1" height="29" fill="#c0c0c0"/>
<rect x="1192" y="609" width="1" height="26" fill="#c0c0c0"/>
<rect x="1200" y="613" width="1" height="22" fill="#c0c0c0"/>
<rect x="1208" y="621" width="1" height="14" fill="#c0c0c0"/>
<rect x="1216" y="627" width="1" height="8" fill="#c0c0c0"/>
<rect x="1224" y="634" width="1" height="3" fill="#c0c0c0"/>
<rect x="1232" y="634" width="1" height="11" fill="#c0c0c0"/>
<rect x="1240" y="634" width="1" height="16" fill="#c0c0c0"/>
<rect x="1248" y="634" width="1" height="19" fill="#c0c0c0"/>
<rect x="1256" y="634" width="1" height="21" fill="#c0c0c0"/>
<rect x="1264" y="634" width="1" height="20" fill="#c0c0c0"/>
<rect x="1272" y="634" width="1" height="18" fill="#c0c0c0"/>
<rect x="1280" y="634" width="1" height="18" fill="#c0c0c0"/>
<rect x="1288" y="634" width="1" height="18" fill="#c0c0c0"/>
<rect x="1296" y="634" width="1" height="20" fill="#c0c0c0"/>
<rect x="1304" y="634" width="1" height="24" fill="#c0c0c0"/>
<rect x="1312" y="634" width="1" height="27" fill="#c0c0c0"/>
<rect x="1320" y="634" width="1" height="28" fill="#c0c0c0"/>
<rect x="1328" y="634" width="1" height="29" fill="#c0c0c0"/>
<rect x="1336" y="634" width="1" height="29" fill="#c0c0c0"/>
<rect x="1344" y="634" width="1" height="26" fill="#c0c0c0"/>
<rect x="1352" y="634" width="1" height="23" fill="#c0c0c0"/>
<rect x="1360" y="634" width="1" height="20" fill="#c0c0c0"/>
<rect x="1368" y="634" width="1" height="17" fill="#c0c0c0"/>
<rect x="1376" y="634" width="1" height="14" fill="#c0c0c0"/>
<rect x="1384" y="634" width="1" height="12" fill="#c0c0c0"/>
<rect x="1392" y="634" width="1" height="8" fill="#c0c0c0"/>
<rect x="1400" y="634" width="1" height="8" fill="#c0c0c0"/>
<rect x="1408" y="634" width="1" height="7" fill="#c0c0c0"/>
<rect x="1416" y="634" width="1" height="6" fill="#c0c0c0"/>
<rect x="1424" y="634" width="1" height="2" fill="#c0c0c0"/>
<rect x="1432" y="633" width="1" height="2" fill="#c0c0c0"/>
<rect x="1440" y="630" width="1" height="5" fill="#c0c0c0"/>
<rect x="1448" y="631" width="1" height="4" fill="#c0c0c0"/>
<rect x="1456" y="630" width="1" height="5" fill="#c0c0c0"/>
<rect x="1464" y="631" width="1" height="4" fill="#c0c0c0"/>
<rect x="1472" y="632" width="1" height="3" fill="#c0c0c0"/>
<rect x="1480" y="633" width="1" height="2" fill="#c0c0c0"/>
<rect x="1488" y="633" width="1" height="2" fill="#c0c0c0"/>
<rect x="1496" y="633" width="1" height="2" fill="#c0c0c0"/>
<rect x="1504" y="628" width="1" height="7" fill="#c0c0c0"/>
</g>
<g clip-path="url(#cmacd)" shape-rendering="crispEdges">
<polyline points="0.5,645.0 8.5,648.1 16.5,652.8 24.5,660.1 32.5,669.5 40.5,679.9 48.5,690.7 56.5,701.0 64.5,709.8 72.5,717.3 80.5,722.4 88.5,724.4 96.5,722.7 104.5,718.0 112.5,711.3 120.5,703.1 128.5,693.8 136.5,684.5 144.5,675.7 152.5,668.3 160.5,662.4 168.5,657.7 176.5,653.4 184.5,649.7 192.5,646.3 200.5,642.8 208.5,639.3 216.5,635.9 224.5,632.4 232.5,629.4 240.5,626.9 248.5,625.5 256.5,624.9 264.5,624.9 272.5,625.7 280.5,626.9 288.5,628.1 296.5,629.2 304.5,630.2 312.5,630.6 320.5,630.5 328.5,630.1 336.5,629.6 344.5,629.0 352.5,628.7 360.5,628.6 368.5,628.7 376.5,629.0 384.5,629.9 392.5,631.3 400.5,633.0 408.5,634.9 416.5,637.2 424.5,639.6 432.5,641.9 440.5,644.0 448.5,646.0 456.5,647.8 464.5,649.2 472.5,650.2 480.5,651.0 488.5,650.8 496.5,650.0 504.5,648.8 512.5,647.6 520.5,646.2 528.5,644.2 536.5,641.5 544.5,638.3 552.5,634.6 560.5,630.9 568.5,626.8 576.5,622.6 584.5,618.4 592.5,614.3 600.5,611.2 608.5,609.2 616.5,608.1 624.5,607.4 632.5,607.4 640.5,608.2 648.5,609.9 656.5,612.5 664.5,615.7 672.5,618.6 680.5,620.9 688.5,623.2 696.5,625.7 704.5,628.3 712.5,631.0 720.5,633.4 728.5,635.3 736.5,636.4 744.5,637.3 752.5,638.1 760.5,638.5 768.5,638.6 776.5,638.1 784.5,637.0 792.5,635.3 800.5,633.3 808.5,631.3 816.5,629.6 824.5,628.0 832.5,626.5 840.5,625.3 848.5,624.4 856.5,623.9 864.5,623.5 872.5,623.0 880.5,622.4 888.5,621.7 896.5,620.6 904.5,619.4 912.5,617.8 920.5,615.7 928.5,613.3 936.5,610.4 944.5,607.4 952.5,604.4 960.5,601.5 968.5,598.8 976.5,596.2 984.5,594.0 992.5,592.4 1000.5,591.4 1008.5,591.2 1016.5,591.6 1024.5,592.6 1032.5,593.9 1040.5,595.3 1048.5,596.9 1056.5,598.7 1064.5,600.0 1072.5,601.2 1080.5,602.1 1088.5,603.1 1096.5,604.1 1104.5,605.2 1112.5,606.3 1120.5,607.1 1128.5,607.8 1136.5,608.5 1144.5,608.6 1152.5,608.7 1160.5,608.2 1168.5,607.4 1176.5,606.6 1184.5,605.9 1192.5,605.7 1200.5,605.9 1208.5,607.3 1216.5,609.7 1224.5,613.3 1232.5,618.0 1240.5,623.3 1248.5,628.6 1256.5,633.9 1264.5,638.8 1272.5,643.1 1280.5,646.5 1288.5,649.1 1296.5,651.0 1304.5,652.4 1312.5,653.6 1320.5,654.5 1328.5,655.4 1336.5,656.4 1344.5,657.2 1352.5,657.7 1360.5,657.8 1368.5,657.5 1376.5,656.5 1384.5,654.9 1392.5,652.8 1400.5,650.5 1408.5,648.1 1416.5,645.8 1424.5,643.5 1432.5,641.3 1440.5,639.0 1448.5,637.1 1456.5,635.4 1464.5,634.3 1472.5,633.3 1480.5,632.5 1488.5,631.9 1496.5,631.6 1504.5,631.1" fill="none" stroke="#ff0000" stroke-width="1" stroke-dasharray="3,2"/>
</g>
<text x="-1" y="592" font-size="9.6" fill="#000" text-anchor="start" textLength="145" lengthAdjust="spacingAndGlyphs" stroke="#000" stroke-width="0.25" >MACD(12,26,9) 0.001884 0.000957</text>
<text x="1686" y="589" font-size="9.6" fill="#000" text-anchor="start" textLength="38" lengthAdjust="spacingAndGlyphs" stroke="#000" stroke-width="0.25" >0.017833</text>
<text x="1686" y="638" font-size="9.6" fill="#000" text-anchor="start" textLength="19" lengthAdjust="spacingAndGlyphs" stroke="#000" stroke-width="0.25" >0.00</text>
<text x="1686" y="746" font-size="9.6" fill="#000" text-anchor="start" textLength="42" lengthAdjust="spacingAndGlyphs" stroke="#000" stroke-width="0.25" >-0.038559</text>
<rect x="1683" y="581" width="2" height="1" fill="#000" />
<rect x="1683" y="634" width="1" height="1" fill="#000" />
<line x1="0" y1="787.5" x2="1682" y2="787.5" stroke="#c0c0c0" stroke-width="1" stroke-dasharray="3,3" shape-rendering="crispEdges"/>
<line x1="0" y1="838.5" x2="1682" y2="838.5" stroke="#c0c0c0" stroke-width="1" stroke-dasharray="3,3" shape-rendering="crispEdges"/>
<line x1="0" y1="899.5" x2="1682" y2="899.5" stroke="#c0c0c0" stroke-width="1" stroke-dasharray="3,3" shape-rendering="crispEdges"/>
<g clip-path="url(#crsi)">
<polyline points="0.5,870.7 8.5,877.1 16.5,881.6 24.5,893.4 32.5,897.3 40.5,889.7 48.5,885.8 56.5,885.8 64.5,869.9 72.5,865.6 80.5,843.9 88.5,829.5 96.5,831.1 104.5,836.0 112.5,834.0 120.5,835.6 128.5,834.7 136.5,842.5 144.5,845.7 152.5,844.2 160.5,836.9 168.5,833.4 176.5,829.2 184.5,829.1 192.5,824.8 200.5,818.3 208.5,828.0 216.5,830.7 224.5,830.6 232.5,831.1 240.5,835.4 248.5,847.4 256.5,845.2 264.5,842.4 272.5,842.4 280.5,840.6 288.5,834.5 296.5,833.4 304.5,829.4 312.5,819.0 320.5,831.2 328.5,834.5 336.5,835.9 344.5,835.7 352.5,849.2 360.5,842.9 368.5,838.4 376.5,837.9 384.5,848.0 392.5,855.5 400.5,857.0 408.5,857.6 416.5,867.9 424.5,870.4 432.5,852.7 440.5,845.6 448.5,848.0 456.5,849.7 464.5,854.7 472.5,852.7 480.5,850.0 488.5,832.8 496.5,841.2 504.5,834.6 512.5,833.8 520.5,831.4 528.5,816.9 536.5,809.3 544.5,811.0 552.5,808.4 560.5,803.6 568.5,800.2 576.5,799.1 584.5,803.7 592.5,803.7 600.5,826.8 608.5,836.9 616.5,834.6 624.5,821.6 632.5,829.0 640.5,833.0 648.5,846.6 656.5,852.9 664.5,853.6 672.5,836.1 680.5,833.7 688.5,845.1 696.5,843.7 704.5,851.3 712.5,851.3 720.5,854.2 728.5,844.4 736.5,835.9 744.5,835.8 752.5,834.6 760.5,835.3 768.5,832.1 776.5,826.6 784.5,818.6 792.5,820.2 800.5,818.0 808.5,818.0 816.5,831.0 824.5,828.5 832.5,825.8 840.5,831.7 848.5,829.7 856.5,830.0 864.5,816.5 872.5,809.0 880.5,809.5 888.5,809.2 896.5,802.8 904.5,802.3 912.5,793.9 920.5,791.2 928.5,787.5 936.5,780.1 944.5,783.4 952.5,784.4 960.5,789.4 968.5,788.8 976.5,786.3 984.5,785.4 992.5,807.0 1000.5,806.9 1008.5,803.8 1016.5,811.0 1024.5,811.4 1032.5,808.7 1040.5,806.0 1048.5,804.0 1056.5,804.0 1064.5,789.4 1072.5,820.3 1080.5,809.4 1088.5,828.6 1096.5,828.3 1104.5,832.0 1112.5,823.0 1120.5,816.4 1128.5,819.6 1136.5,807.7 1144.5,806.8 1152.5,806.1 1160.5,803.3 1168.5,812.0 1176.5,825.2 1184.5,822.7 1192.5,828.2 1200.5,840.0 1208.5,858.9 1216.5,854.6 1224.5,868.3 1232.5,869.3 1240.5,866.8 1248.5,861.3 1256.5,856.8 1264.5,847.2 1272.5,845.7 1280.5,850.8 1288.5,849.5 1296.5,860.2 1304.5,866.0 1312.5,868.1 1320.5,862.2 1328.5,864.3 1336.5,859.3 1344.5,844.2 1352.5,845.0 1360.5,838.4 1368.5,842.5 1376.5,836.2 1384.5,837.0 1392.5,828.8 1400.5,842.9 1408.5,838.7 1416.5,835.8 1424.5,825.0 1432.5,826.2 1440.5,822.5 1448.5,839.8 1456.5,831.3 1464.5,843.1 1472.5,839.8 1480.5,840.8 1488.5,838.0 1496.5,836.7 1504.5,818.1" fill="none" stroke="#1e90ff" stroke-width="1" />
</g>
<text x="-4.5" y="764" font-size="9.6" fill="#000" text-anchor="start" textLength="67" lengthAdjust="spacingAndGlyphs" stroke="#000" stroke-width="0.25" >RSI(14) 61.9364</text>
<text x="1685" y="762.5" font-size="9.6" fill="#000" text-anchor="start" textLength="18" lengthAdjust="spacingAndGlyphs" stroke="#000" stroke-width="0.25" >100</text>
<text x="1685" y="791.8" font-size="9.6" fill="#000" text-anchor="start" textLength="12" lengthAdjust="spacingAndGlyphs" stroke="#000" stroke-width="0.25" >80</text>
<text x="1685" y="842.7" font-size="9.6" fill="#000" text-anchor="start" textLength="12" lengthAdjust="spacingAndGlyphs" stroke="#000" stroke-width="0.25" >50</text>
<text x="1685" y="903.7" font-size="9.6" fill="#000" text-anchor="start" textLength="12" lengthAdjust="spacingAndGlyphs" stroke="#000" stroke-width="0.25" >15</text>
<text x="1685" y="922.3" font-size="9.6" fill="#000" text-anchor="start" textLength="6" lengthAdjust="spacingAndGlyphs" stroke="#000" stroke-width="0.25" >0</text>
<rect x="1683" y="46" width="2" height="1" fill="#000" />
<text x="1688" y="50" font-size="9.6" fill="#000" text-anchor="start" textLength="33" lengthAdjust="spacingAndGlyphs" stroke="#000" stroke-width="0.25" >1.35040</text>
<rect x="1683" y="79" width="2" height="1" fill="#000" />
<text x="1688" y="83" font-size="9.6" fill="#000" text-anchor="start" textLength="33" lengthAdjust="spacingAndGlyphs" stroke="#000" stroke-width="0.25" >1.33720</text>
<rect x="1683" y="112" width="2" height="1" fill="#000" />
<text x="1688" y="116" font-size="9.6" fill="#000" text-anchor="start" textLength="33" lengthAdjust="spacingAndGlyphs" stroke="#000" stroke-width="0.25" >1.32360</text>
<rect x="1683" y="145" width="2" height="1" fill="#000" />
<text x="1688" y="149" font-size="9.6" fill="#000" text-anchor="start" textLength="33" lengthAdjust="spacingAndGlyphs" stroke="#000" stroke-width="0.25" >1.31040</text>
<rect x="1683" y="178" width="2" height="1" fill="#000" />
<text x="1688" y="182" font-size="9.6" fill="#000" text-anchor="start" textLength="33" lengthAdjust="spacingAndGlyphs" stroke="#000" stroke-width="0.25" >1.29680</text>
<rect x="1683" y="211" width="2" height="1" fill="#000" />
<text x="1688" y="215" font-size="9.6" fill="#000" text-anchor="start" textLength="33" lengthAdjust="spacingAndGlyphs" stroke="#000" stroke-width="0.25" >1.28360</text>
<rect x="1683" y="244" width="2" height="1" fill="#000" />
<text x="1688" y="248" font-size="9.6" fill="#000" text-anchor="start" textLength="33" lengthAdjust="spacingAndGlyphs" stroke="#000" stroke-width="0.25" >1.27000</text>
<rect x="1683" y="277" width="2" height="1" fill="#000" />
<text x="1688" y="281" font-size="9.6" fill="#000" text-anchor="start" textLength="33" lengthAdjust="spacingAndGlyphs" stroke="#000" stroke-width="0.25" >1.25680</text>
<rect x="1683" y="310" width="2" height="1" fill="#000" />
<text x="1688" y="314" font-size="9.6" fill="#000" text-anchor="start" textLength="33" lengthAdjust="spacingAndGlyphs" stroke="#000" stroke-width="0.25" >1.24360</text>
<rect x="1683" y="343" width="2" height="1" fill="#000" />
<text x="1688" y="347" font-size="9.6" fill="#000" text-anchor="start" textLength="33" lengthAdjust="spacingAndGlyphs" stroke="#000" stroke-width="0.25" >1.23000</text>
<rect x="1683" y="376" width="2" height="1" fill="#000" />
<text x="1688" y="380" font-size="9.6" fill="#000" text-anchor="start" textLength="33" lengthAdjust="spacingAndGlyphs" stroke="#000" stroke-width="0.25" >1.21680</text>
<rect x="1683" y="409" width="2" height="1" fill="#000" />
<text x="1688" y="413" font-size="9.6" fill="#000" text-anchor="start" textLength="33" lengthAdjust="spacingAndGlyphs" stroke="#000" stroke-width="0.25" >1.20320</text>
<rect x="1683" y="442" width="2" height="1" fill="#000" />
<text x="1688" y="446" font-size="9.6" fill="#000" text-anchor="start" textLength="33" lengthAdjust="spacingAndGlyphs" stroke="#000" stroke-width="0.25" >1.19000</text>
<rect x="1683" y="475" width="2" height="1" fill="#000" />
<text x="1688" y="479" font-size="9.6" fill="#000" text-anchor="start" textLength="33" lengthAdjust="spacingAndGlyphs" stroke="#000" stroke-width="0.25" >1.17680</text>
<rect x="1683" y="508" width="2" height="1" fill="#000" />
<text x="1688" y="512" font-size="9.6" fill="#000" text-anchor="start" textLength="33" lengthAdjust="spacingAndGlyphs" stroke="#000" stroke-width="0.25" >1.16320</text>
<rect x="1683" y="541" width="2" height="1" fill="#000" />
<text x="1688" y="545" font-size="9.6" fill="#000" text-anchor="start" textLength="33" lengthAdjust="spacingAndGlyphs" stroke="#000" stroke-width="0.25" >1.15000</text>
<rect x="1683" y="574" width="2" height="1" fill="#000" />
<text x="1688" y="578" font-size="9.6" fill="#000" text-anchor="start" textLength="33" lengthAdjust="spacingAndGlyphs" stroke="#000" stroke-width="0.25" >1.13680</text>
<rect x="1684" y="74" width="41" height="11" fill="#ff4500"/>
<text x="1688" y="83" font-size="9.6" fill="#fff" text-anchor="start" textLength="33" lengthAdjust="spacingAndGlyphs" stroke="#fff" stroke-width="0.25" >1.33629</text>
<rect x="1684" y="103" width="41" height="11" fill="#ff0000"/>
<text x="1688" y="112" font-size="9.6" fill="#fff" text-anchor="start" textLength="33" lengthAdjust="spacingAndGlyphs" stroke="#fff" stroke-width="0.25" >1.32458</text>
<rect x="1684" y="131" width="41" height="11" fill="#000"/>
<text x="1688" y="140" font-size="9.6" fill="#fff" text-anchor="start" textLength="33" lengthAdjust="spacingAndGlyphs" stroke="#fff" stroke-width="0.25" >1.31380</text>
<rect x="1684" y="142" width="41" height="11" fill="#32cd32"/>
<text x="1688" y="151" font-size="9.6" fill="#fff" text-anchor="start" textLength="33" lengthAdjust="spacingAndGlyphs" stroke="#fff" stroke-width="0.25" >1.30883</text>
<rect x="1684" y="169" width="41" height="11" fill="#0000ff"/>
<text x="1688" y="178" font-size="9.6" fill="#fff" text-anchor="start" textLength="33" lengthAdjust="spacingAndGlyphs" stroke="#fff" stroke-width="0.25" >1.29793</text>
<rect x="1684" y="198" width="41" height="11" fill="#0000ff"/>
<text x="1688" y="207" font-size="9.6" fill="#fff" text-anchor="start" textLength="33" lengthAdjust="spacingAndGlyphs" stroke="#fff" stroke-width="0.25" >1.28622</text>
<text x="-9" y="938" font-size="9.6" fill="#000" text-anchor="start" textLength="52" lengthAdjust="spacingAndGlyphs" stroke="#000" stroke-width="0.25" >15 Mar 2020</text>
<rect x="56" y="926" width="1" height="3" fill="#000"/>
<text x="55" y="938" font-size="9.6" fill="#000" text-anchor="start" textLength="52" lengthAdjust="spacingAndGlyphs" stroke="#000" stroke-width="0.25" >23 Mar 2020</text>
<rect x="120" y="926" width="1" height="3" fill="#000"/>
<text x="119" y="938" font-size="9.6" fill="#000" text-anchor="start" textLength="46" lengthAdjust="spacingAndGlyphs" stroke="#000" stroke-width="0.25" >1 Apr 2020</text>
<rect x="184" y="926" width="1" height="3" fill="#000"/>
<text x="183" y="938" font-size="9.6" fill="#000" text-anchor="start" textLength="52" lengthAdjust="spacingAndGlyphs" stroke="#000" stroke-width="0.25" >12 Apr 2020</text>
<rect x="248" y="926" width="1" height="3" fill="#000"/>
<text x="247" y="938" font-size="9.6" fill="#000" text-anchor="start" textLength="52" lengthAdjust="spacingAndGlyphs" stroke="#000" stroke-width="0.25" >21 Apr 2020</text>
<rect x="312" y="926" width="1" height="3" fill="#000"/>
<text x="311" y="938" font-size="9.6" fill="#000" text-anchor="start" textLength="52" lengthAdjust="spacingAndGlyphs" stroke="#000" stroke-width="0.25" >30 Apr 2020</text>
<rect x="376" y="926" width="1" height="3" fill="#000"/>
<text x="375" y="938" font-size="9.6" fill="#000" text-anchor="start" textLength="52" lengthAdjust="spacingAndGlyphs" stroke="#000" stroke-width="0.25" >10 May 2020</text>
<rect x="440" y="926" width="1" height="3" fill="#000"/>
<text x="439" y="938" font-size="9.6" fill="#000" text-anchor="start" textLength="52" lengthAdjust="spacingAndGlyphs" stroke="#000" stroke-width="0.25" >19 May 2020</text>
<rect x="504" y="926" width="1" height="3" fill="#000"/>
<text x="503" y="938" font-size="9.6" fill="#000" text-anchor="start" textLength="52" lengthAdjust="spacingAndGlyphs" stroke="#000" stroke-width="0.25" >28 May 2020</text>
<rect x="568" y="926" width="1" height="3" fill="#000"/>
<text x="567" y="938" font-size="9.6" fill="#000" text-anchor="start" textLength="46" lengthAdjust="spacingAndGlyphs" stroke="#000" stroke-width="0.25" >7 Jun 2020</text>
<rect x="632" y="926" width="1" height="3" fill="#000"/>
<text x="631" y="938" font-size="9.6" fill="#000" text-anchor="start" textLength="52" lengthAdjust="spacingAndGlyphs" stroke="#000" stroke-width="0.25" >16 Jun 2020</text>
<rect x="696" y="926" width="1" height="3" fill="#000"/>
<text x="695" y="938" font-size="9.6" fill="#000" text-anchor="start" textLength="52" lengthAdjust="spacingAndGlyphs" stroke="#000" stroke-width="0.25" >25 Jun 2020</text>
<rect x="760" y="926" width="1" height="3" fill="#000"/>
<text x="759" y="938" font-size="9.6" fill="#000" text-anchor="start" textLength="46" lengthAdjust="spacingAndGlyphs" stroke="#000" stroke-width="0.25" >5 Jul 2020</text>
<rect x="824" y="926" width="1" height="3" fill="#000"/>
<text x="823" y="938" font-size="9.6" fill="#000" text-anchor="start" textLength="52" lengthAdjust="spacingAndGlyphs" stroke="#000" stroke-width="0.25" >14 Jul 2020</text>
<rect x="888" y="926" width="1" height="3" fill="#000"/>
<text x="887" y="938" font-size="9.6" fill="#000" text-anchor="start" textLength="52" lengthAdjust="spacingAndGlyphs" stroke="#000" stroke-width="0.25" >23 Jul 2020</text>
<rect x="952" y="926" width="1" height="3" fill="#000"/>
<text x="951" y="938" font-size="9.6" fill="#000" text-anchor="start" textLength="46" lengthAdjust="spacingAndGlyphs" stroke="#000" stroke-width="0.25" >2 Aug 2020</text>
<rect x="1016" y="926" width="1" height="3" fill="#000"/>
<text x="1015" y="938" font-size="9.6" fill="#000" text-anchor="start" textLength="52" lengthAdjust="spacingAndGlyphs" stroke="#000" stroke-width="0.25" >11 Aug 2020</text>
<rect x="1080" y="926" width="1" height="3" fill="#000"/>
<text x="1079" y="938" font-size="9.6" fill="#000" text-anchor="start" textLength="52" lengthAdjust="spacingAndGlyphs" stroke="#000" stroke-width="0.25" >20 Aug 2020</text>
<rect x="1144" y="926" width="1" height="3" fill="#000"/>
<text x="1143" y="938" font-size="9.6" fill="#000" text-anchor="start" textLength="52" lengthAdjust="spacingAndGlyphs" stroke="#000" stroke-width="0.25" >30 Aug 2020</text>
<rect x="1208" y="926" width="1" height="3" fill="#000"/>
<text x="1207" y="938" font-size="9.6" fill="#000" text-anchor="start" textLength="46" lengthAdjust="spacingAndGlyphs" stroke="#000" stroke-width="0.25" >8 Sep 2020</text>
<rect x="1272" y="926" width="1" height="3" fill="#000"/>
<text x="1271" y="938" font-size="9.6" fill="#000" text-anchor="start" textLength="52" lengthAdjust="spacingAndGlyphs" stroke="#000" stroke-width="0.25" >17 Sep 2020</text>
<rect x="1336" y="926" width="1" height="3" fill="#000"/>
<text x="1335" y="938" font-size="9.6" fill="#000" text-anchor="start" textLength="52" lengthAdjust="spacingAndGlyphs" stroke="#000" stroke-width="0.25" >27 Sep 2020</text>
<rect x="1400" y="926" width="1" height="3" fill="#000"/>
<text x="1399" y="938" font-size="9.6" fill="#000" text-anchor="start" textLength="46" lengthAdjust="spacingAndGlyphs" stroke="#000" stroke-width="0.25" >6 Oct 2020</text>
<rect x="1464" y="926" width="1" height="3" fill="#000"/>
<text x="1463" y="938" font-size="9.6" fill="#000" text-anchor="start" textLength="52" lengthAdjust="spacingAndGlyphs" stroke="#000" stroke-width="0.25" >15 Oct 2020</text>
<text x="7" y="35.5" font-size="9.6" fill="#000" text-anchor="start" textLength="66.5" lengthAdjust="spacingAndGlyphs" stroke="#000" stroke-width="0.25" >GBPUSD-,Daily</text>
<text x="80.5" y="35.5" font-size="9.6" fill="#000" text-anchor="start" textLength="140" lengthAdjust="spacingAndGlyphs" stroke="#000" stroke-width="0.25" >1.29549 1.31755 1.29529 1.31380</text>
<polygon points="0,30 3,35 0,35" fill="#000"/>
<rect x="1089.5" y="43.5" width="61" height="18" fill="#fff" stroke="#ff0000" stroke-width="1" shape-rendering="crispEdges"/>
<text x="1092" y="58.7" font-size="16" fill="#ff0000" text-anchor="start" textLength="57" lengthAdjust="spacingAndGlyphs" >1.34760</text>
<rect x="1151" y="52" width="9" height="1" fill="#ff0000"/>
<rect x="521.5" y="210.5" width="61" height="18" fill="#fff" stroke="#ff0000" stroke-width="1" shape-rendering="crispEdges"/>
<text x="524" y="226" font-size="16.5" fill="#ff0000" text-anchor="start" textLength="57" lengthAdjust="spacingAndGlyphs" >1.28016</text>
<rect x="583" y="219" width="9" height="1" fill="#ff0000"/>
<rect x="843.5" y="136.5" width="73" height="24" fill="#fff" stroke="#ff0000" stroke-width="1" shape-rendering="crispEdges"/>
<text x="845.5" y="157" font-size="23.5" fill="#ff0000" text-anchor="start" textLength="69.5" lengthAdjust="spacingAndGlyphs" >1.30883</text>
<rect x="833" y="148" width="7" height="1" fill="#ff0000"/><rect x="839.5" y="145.5" width="3" height="4" fill="#fff" stroke="#ff0000" stroke-width="1"/>
<rect x="649.5" y="344.5" width="61" height="18" fill="#fff" stroke="#ff0000" stroke-width="1" shape-rendering="crispEdges"/>
<text x="652" y="360" font-size="16.5" fill="#ff0000" text-anchor="start" textLength="57" lengthAdjust="spacingAndGlyphs" >1.22605</text>
<rect x="711.5" y="351.5" width="3" height="4" fill="#fff" stroke="#ff0000" stroke-width="1"/><rect x="714" y="353" width="6" height="1" fill="#ff0000"/>
<rect x="1233.5" y="242.5" width="61" height="18" fill="#fff" stroke="#ff0000" stroke-width="1" shape-rendering="crispEdges"/>
<text x="1236" y="258.2" font-size="16.5" fill="#ff0000" text-anchor="start" textLength="57" lengthAdjust="spacingAndGlyphs" >1.26724</text>
<rect x="1295" y="251" width="10" height="1" fill="#ff0000"/>
<rect x="1297.5" y="134.5" width="110" height="24" fill="none" stroke="#333" stroke-width="1" shape-rendering="crispEdges"/>
<path transform="translate(1299.5,136.5) scale(1.850)" d="M4 0.3 L2.5 2.2 M3.5 1.2 L6.8 1.2 L3 4.5 M4.3 2.3 L5.3 3.2 M5.8 4 L4.5 5.8 M5.2 5 L9 5 L2 10 M6 6.5 L7 7.5" fill="none" stroke="#00ff00" stroke-width="0.70" stroke-linecap="square"/>
<path transform="translate(1320.5,136.5) scale(1.850)" d="M5 0 L5 1 M0.8 3 L0.8 1.5 L9.2 1.5 L9.2 3 M3.8 2.3 L1.5 4.3 M6.2 2.3 L8.5 4.3 M2 6 L8 6 M5 6 L5 9.5 M0.5 9.5 L9.5 9.5" fill="none" stroke="#00ff00" stroke-width="0.70" stroke-linecap="square"/>
<path transform="translate(1341.5,136.5) scale(1.850)" d="M0.3 2 L4 2 M2.3 0.3 L1 5.5 L4 5.5 M2.3 4 L2.3 10 M0.3 8 L4.3 7 M5 2.5 L9.5 2.5 M7.2 0.5 L6 6 L9.3 6 L8 8.5 M6.5 7.5 L8.5 10 M4.6 4.2 L9.8 4.2" fill="none" stroke="#00ff00" stroke-width="0.70" stroke-linecap="square"/>
<path transform="translate(1362.5,136.5) scale(1.850)" d="M0.5 3.5 L3.5 3.5 M2 0.5 L2 9.5 L1 9 M0.5 7 L3.8 5.3 M8.8 0.5 L5.3 1.8 L5.3 5 L4.5 10 M5.3 5 L9.8 5 M7.8 5 L7.8 10" fill="none" stroke="#00ff00" stroke-width="0.70" stroke-linecap="square"/>
<path transform="translate(1383.5,136.5) scale(1.850)" d="M5 0.3 L5 4 M5 2 L8.5 2 M2 4 L8 4 L8 7 L2 7 Z M1.2 8.3 L0.5 9.8 M3.7 8.5 L4.2 9.8 M6.2 8.5 L6.7 9.8 M8.7 8.3 L9.6 9.8" fill="none" stroke="#00ff00" stroke-width="0.70" stroke-linecap="square"/>
<rect x="1414" y="145" width="146" height="6" fill="#00ff00"/>
<line x1="1321" y1="248.5" x2="1434.8" y2="156.4" stroke="#ff0000" stroke-width="3.6"/>
<polygon points="1442.6,150.1 1437.0,162.3 1429.5,153.0" fill="#ff0000"/>
<line x1="1442.6" y1="150.1" x2="1469.3" y2="195.3" stroke="#ff0000" stroke-width="3.6"/>
<polygon points="1474.4,203.9 1463.1,196.6 1473.5,190.5" fill="#ff0000"/>
<line x1="1474.4" y1="203.9" x2="1526.6" y2="123.1" stroke="#ff0000" stroke-width="3.6"/>
<polygon points="1532.0,114.7 1530.5,128.0 1520.4,121.5" fill="#ff0000"/>
<line x1="1357.6" y1="661.4" x2="1493.6" y2="627.6" stroke="#ff0000" stroke-width="3.3"/>
<polygon points="1503.3,625.2 1492.9,632.9 1490.4,623.2" fill="#ff0000"/>
<defs><linearGradient id="gb" x1="0" y1="0" x2="0" y2="1"><stop offset="0" stop-color="#5858ff"/><stop offset="1" stop-color="#3030e0"/></linearGradient><linearGradient id="gp" x1="0" y1="0" x2="0" y2="1"><stop offset="0" stop-color="#3a3ae8"/><stop offset="1" stop-color="#0000b4"/></linearGradient><linearGradient id="gs" x1="0" y1="0" x2="0" y2="1"><stop offset="0" stop-color="#f4f4f4"/><stop offset="0.45" stop-color="#e6e6e6"/><stop offset="0.5" stop-color="#d8d8d8"/><stop offset="1" stop-color="#cfcfcf"/></linearGradient></defs>
<rect x="0" y="44" width="214" height="64" fill="#fff"/>
<rect x="0" y="44" width="47" height="25" fill="#0000a0"/>
<rect x="0" y="45" width="46" height="23" fill="url(#gb)"/>
<rect x="0" y="67" width="43" height="1" fill="#6a6aff"/>
<rect x="162" y="44" width="52" height="25" fill="#0000a0"/>
<rect x="163" y="45" width="50" height="23" fill="url(#gb)"/>
<rect x="166" y="67" width="44" height="1" fill="#6a6aff"/>
<rect x="49.5" y="44.5" width="110" height="21" fill="#fff" stroke="#a8a8a8" stroke-width="1"/>
<rect x="50.5" y="45.5" width="20" height="19" fill="url(#gs)" stroke="#b8b8b8" stroke-width="1"/>
<rect x="138.5" y="45.5" width="20" height="19" fill="url(#gs)" stroke="#b8b8b8" stroke-width="1"/>
<polygon points="57,54 63,54 60,57" fill="#4a5ac8"/>
<polygon points="145,56 151,56 148,53" fill="#4a5ac8"/>
<text x="111.5" y="59" font-size="12" fill="#111" text-anchor="start" textLength="23" lengthAdjust="spacingAndGlyphs" >1.00</text>
<rect x="0" y="68" width="104" height="40" fill="#0000a0"/><rect x="0" y="69" width="103" height="38" fill="url(#gp)"/>
<rect x="106" y="68" width="108" height="40" fill="#0000a0"/><rect x="107" y="69" width="106" height="38" fill="url(#gp)"/>
<text x="15" y="99" font-size="12.5" fill="#fff" text-anchor="start" textLength="24" lengthAdjust="spacingAndGlyphs" font-weight="bold" >1.31</text>
<text x="43.5" y="99" font-size="32" fill="#fff" text-anchor="start" textLength="33.5" lengthAdjust="spacingAndGlyphs" >38</text>
<text x="81.5" y="83" font-size="12" fill="#fff" text-anchor="start" textLength="7" lengthAdjust="spacingAndGlyphs" font-weight="bold" >0</text>
<text x="125" y="99" font-size="12.5" fill="#fff" text-anchor="start" textLength="24" lengthAdjust="spacingAndGlyphs" font-weight="bold" >1.31</text>
<text x="154.5" y="99" font-size="32" fill="#fff" text-anchor="start" textLength="33" lengthAdjust="spacingAndGlyphs" >62</text>
<text x="193" y="83" font-size="12" fill="#fff" text-anchor="start" textLength="7" lengthAdjust="spacingAndGlyphs" font-weight="bold" >2</text>
<text x="7.5" y="60" font-size="12.5" fill="#fff" text-anchor="start" textLength="25.5" lengthAdjust="spacingAndGlyphs" >SELL</text>
<text x="176" y="60" font-size="12.5" fill="#fff" text-anchor="start" textLength="23" lengthAdjust="spacingAndGlyphs" >BUY</text>
<rect x="0" y="0" width="1729" height="20" fill="#f0f0f0"/>
<rect x="0" y="19" width="1729" height="1" fill="#d8d8d8"/>
<rect x="0" y="20" width="1729" height="1" fill="#8a8a8a"/>
<rect x="0" y="21" width="1729" height="1" fill="#6e6e6e"/>
<rect x="43" y="2" width="1" height="16" fill="#a8a8a8"/>
<rect x="374" y="2" width="1" height="16" fill="#a8a8a8"/>
<rect x="464" y="2" width="1" height="16" fill="#a8a8a8"/>
<rect x="469" y="2" width="1" height="16" fill="#a8a8a8"/>
<rect x="526" y="2" width="1" height="16" fill="#a8a8a8"/>
<rect x="714" y="2" width="1" height="16" fill="#a8a8a8"/>
<rect x="953" y="0" width="1" height="20" fill="#a8a8a8"/>
<rect x="1214" y="0" width="1" height="20" fill="#a8a8a8"/>
<rect x="657" y="0" width="1" height="20" fill="#a8a8a8"/>
<rect x="281" y="2" width="3" height="1" fill="#b4b4b4"/>
<rect x="281" y="4" width="3" height="1" fill="#b4b4b4"/>
<rect x="281" y="6" width="3" height="1" fill="#b4b4b4"/>
<rect x="281" y="8" width="3" height="1" fill="#b4b4b4"/>
<rect x="281" y="10" width="3" height="1" fill="#b4b4b4"/>
<rect x="281" y="12" width="3" height="1" fill="#b4b4b4"/>
<rect x="281" y="14" width="3" height="1" fill="#b4b4b4"/>
<rect x="281" y="16" width="3" height="1" fill="#b4b4b4"/>
<rect x="650" y="2" width="3" height="1" fill="#b4b4b4"/>
<rect x="650" y="4" width="3" height="1" fill="#b4b4b4"/>
<rect x="650" y="6" width="3" height="1" fill="#b4b4b4"/>
<rect x="650" y="8" width="3" height="1" fill="#b4b4b4"/>
<rect x="650" y="10" width="3" height="1" fill="#b4b4b4"/>
<rect x="650" y="12" width="3" height="1" fill="#b4b4b4"/>
<rect x="650" y="14" width="3" height="1" fill="#b4b4b4"/>
<rect x="650" y="16" width="3" height="1" fill="#b4b4b4"/>
<rect x="957" y="2" width="3" height="1" fill="#b4b4b4"/>
<rect x="957" y="4" width="3" height="1" fill="#b4b4b4"/>
<rect x="957" y="6" width="3" height="1" fill="#b4b4b4"/>
<rect x="957" y="8" width="3" height="1" fill="#b4b4b4"/>
<rect x="957" y="10" width="3" height="1" fill="#b4b4b4"/>
<rect x="957" y="12" width="3" height="1" fill="#b4b4b4"/>
<rect x="957" y="14" width="3" height="1" fill="#b4b4b4"/>
<rect x="957" y="16" width="3" height="1" fill="#b4b4b4"/>
<rect x="317" y="0" width="26" height="19" fill="#e8e8e8" stroke="#f8f8f8" stroke-width="0"/>
<rect x="469" y="0" width="25" height="19" fill="#e8e8e8" stroke="#f8f8f8" stroke-width="0"/>
<rect x="498" y="0" width="24" height="19" fill="#e8e8e8" stroke="#f8f8f8" stroke-width="0"/>
<rect x="658" y="0" width="24" height="19" fill="#e8e8e8" stroke="#f8f8f8" stroke-width="0"/>
<rect x="1131" y="0" width="25" height="19" fill="#e8e8e8" stroke="#f8f8f8" stroke-width="0"/>
<rect x="-2" y="2" width="8" height="13" fill="#fff" stroke="#3a7bd5" stroke-width="1"/>
<rect x="0" y="5" width="4" height="1" fill="#8fb0e0"/><rect x="0" y="8" width="4" height="1" fill="#8fb0e0"/><rect x="0" y="11" width="4" height="1" fill="#8fb0e0"/>
<rect x="19" y="2" width="11" height="11" fill="#f4f4f4" stroke="#8a8a70" stroke-width="1"/>
<circle cx="26" cy="8" r="4.5" fill="#dce9f5" stroke="#6f9ccf" stroke-width="1.5"/>
<line x1="29" y1="11" x2="34" y2="16" stroke="#c9a227" stroke-width="2.5"/>
<rect x="54" y="1" width="10" height="12" fill="#fafafa" stroke="#555" stroke-width="1"/>
<rect x="56" y="4" width="5" height="1" fill="#777"/><rect x="56" y="7" width="5" height="1" fill="#777"/>
<rect x="60" y="9" width="9" height="3" fill="#22bb22"/><rect x="63" y="6" width="3" height="10" fill="#22bb22"/>
<polygon points="121,9 128,2 136,8 129,15" fill="#e8b830" stroke="#a07010" stroke-width="1"/>
<rect x="152" y="1" width="9" height="9" fill="#4a90e2" stroke="#2060b0" stroke-width="1"/>
<ellipse cx="156" cy="13" rx="8" ry="3.5" fill="#e8eef5" stroke="#7a8aa0" stroke-width="1"/>
<circle cx="184" cy="8" r="7" fill="none" stroke="#7aa0d0" stroke-width="1"/>
<circle cx="184" cy="8" r="4" fill="none" stroke="#5a88c8" stroke-width="1"/>
<circle cx="184" cy="8" r="1.5" fill="#2a5aa0"/>
<path d="M184 8 L185 15" stroke="#30a030" stroke-width="2"/>
<ellipse cx="211" cy="5" rx="8" ry="4" fill="#5aa0e0"/>
<path d="M204 7 L218 7 L214 15 L207 15 Z" fill="#e8c040"/>
<circle cx="216" cy="13" r="4" fill="#e02020"/><rect x="214.5" y="11.5" width="3" height="3" fill="#fff"/>
<path transform="translate(72.0,2) scale(1.100)" d="M2 1 L3 2 M0.5 3 L5 3 M1 3.5 L1.8 5 M4 3.5 L3.3 5 M0.5 5.5 L5 5.5 M2.7 5.5 L2.7 10 M2.7 7 L0.5 9 M2.7 7 L4.5 8.5 M9.5 0.8 L6.5 1.8 L6.5 6 L5.8 10 M6.5 4.5 L10 4.5 M8.3 4.5 L8.3 10" fill="none" stroke="#111" stroke-width="1.00" stroke-linecap="square"/>
<path transform="translate(83.5,2) scale(1.100)" d="M1 1 L2 2.5 M0.5 4.5 L2 4.5 L2 9 L3.5 8 M4 2 L10 2 M7.3 2 L7.3 9.5 L6 9" fill="none" stroke="#111" stroke-width="1.00" stroke-linecap="square"/>
<path transform="translate(95.1,2) scale(1.100)" d="M2.5 0.5 L3.5 1.8 M7.5 0.5 L6.5 1.8 M1.5 2.5 L8.5 2.5 L8.5 7 L1.5 7 Z M1.5 4.7 L8.5 4.7 M5 2.5 L5 10 M0.3 8.5 L9.7 8.5" fill="none" stroke="#111" stroke-width="1.00" stroke-linecap="square"/>
<path transform="translate(225.0,2) scale(1.150)" d="M5 0.3 L4 2 M2 2 L8 2 L8 10 L2 10 Z M2 4.7 L8 4.7 M2 7.3 L8 7.3" fill="none" stroke="#111" stroke-width="0.96" stroke-linecap="square"/>
<path transform="translate(237.1,2) scale(1.150)" d="M0.5 2 L4.5 2 M0.3 4.5 L5 4.5 M2.3 4.5 L1 8.5 L4.5 8 M3.8 6.5 L4.8 9 M5.5 3.2 L9.5 3.2 L9 9.5 L8 9 M7.3 0.5 L7.3 4 L5.5 10" fill="none" stroke="#111" stroke-width="0.96" stroke-linecap="square"/>
<path transform="translate(249.2,2) scale(1.150)" d="M5 0.3 L5 1.5 M0.5 2 L9.5 2 M3 3 L1 5 M7 3 L9 5 M2.5 5 L8 10 M7.5 5 L1 10" fill="none" stroke="#111" stroke-width="0.96" stroke-linecap="square"/>
<path transform="translate(261.2,2) scale(1.150)" d="M2 0.5 L8 0.5 L8 4.5 L2 4.5 Z M2 2.5 L8 2.5 M3 5 L1 7 M2.5 6 L9 6 L8.5 10 L7.5 9.5 M4.5 6 L2 10 M6.5 6 L4 10" fill="none" stroke="#111" stroke-width="0.96" stroke-linecap="square"/>
<path d="M296.5 2 L296.5 15.5 M294 13.5 L308 13.5" fill="none" stroke="#555" stroke-width="1"/>
<polygon points="294.5,4 296.5,1.5 298.5,4" fill="#555"/><polygon points="307,11.5 309.5,13.5 307,15.5" fill="#555"/>
<path d="M300 5 L300 13 M300 7 L298 7 M300 11 L302 11 M305 4 L305 12" stroke="#20a020" stroke-width="1.5" fill="none"/>
<path d="M325.5 2 L325.5 15.5 M323 13.5 L337 13.5" fill="none" stroke="#555" stroke-width="1"/>
<polygon points="323.5,4 325.5,1.5 327.5,4" fill="#555"/><polygon points="336,11.5 338.5,13.5 336,15.5" fill="#555"/>
<rect x="328" y="3" width="4" height="8" fill="#20c020" stroke="#207020" stroke-width="1"/><rect x="329.5" y="1" width="1" height="13" fill="#207020"/>
<path d="M352.5 2 L352.5 15.5 M350 13.5 L364 13.5" fill="none" stroke="#555" stroke-width="1"/>
<polygon points="350.5,4 352.5,1.5 354.5,4" fill="#555"/><polygon points="363,11.5 365.5,13.5 363,15.5" fill="#555"/>
<path d="M353 12 L358 5 L366 12" fill="none" stroke="#20a020" stroke-width="1.2"/>
<circle cx="388" cy="7" r="5.5" fill="#cfe4f8" stroke="#3a78c8" stroke-width="1.5"/>
<line x1="392" y1="11" x2="398" y2="17" stroke="#d0a020" stroke-width="2.5"/>
<rect x="385" y="6" width="6" height="2" fill="#2a68c0"/>
<rect x="387" y="4" width="2" height="6" fill="#2a68c0"/>
<circle cx="416" cy="7" r="5.5" fill="#cfe4f8" stroke="#3a78c8" stroke-width="1.5"/>
<line x1="420" y1="11" x2="426" y2="17" stroke="#d0a020" stroke-width="2.5"/>
<rect x="413" y="6" width="6" height="2" fill="#2a68c0"/>
<rect x="439" y="0" width="8" height="8" rx="1" fill="#3a9a2a"/><rect x="440" y="3" width="6" height="4" fill="#f4f8f4"/>
<rect x="447" y="0" width="8" height="8" rx="1" fill="#2a62d0"/><rect x="448" y="3" width="6" height="4" fill="#f4f8f4"/>
<rect x="439" y="8" width="8" height="8" rx="1" fill="#2a62d0"/><rect x="440" y="11" width="6" height="4" fill="#f4f8f4"/>
<rect x="447" y="8" width="8" height="8" rx="1" fill="#3a9a2a"/><rect x="448" y="11" width="6" height="4" fill="#f4f8f4"/>
<path d="M476.5 2 L476.5 15.5 M474 13.5 L488 13.5" fill="none" stroke="#555" stroke-width="1"/>
<polygon points="474.5,4 476.5,1.5 478.5,4" fill="#555"/><polygon points="487,11.5 489.5,13.5 487,15.5" fill="#555"/>
<polygon points="482,5 487,9 482,13" fill="#20a020"/>
<path d="M505.5 2 L505.5 15.5 M503 13.5 L517 13.5" fill="none" stroke="#555" stroke-width="1"/>
<polygon points="503.5,4 505.5,1.5 507.5,4" fill="#555"/><polygon points="516,11.5 518.5,13.5 516,15.5" fill="#555"/>
<rect x="510" y="3" width="1" height="12" fill="#3060c0"/><polygon points="518,8 513,5 513,11" fill="#c03020"/>
<rect x="536" y="2" width="9" height="11" fill="#f4f4f4" stroke="#666" stroke-width="1"/>
<rect x="542" y="9" width="10" height="3" fill="#22bb22"/><rect x="545.5" y="5.5" width="3" height="11" fill="#22bb22"/>
<polygon points="558,7 563,7 560.5,10" fill="#222"/>
<circle cx="581" cy="8" r="7.5" fill="#2a6ad0"/><circle cx="581" cy="8" r="5" fill="#f0f4ff"/><path d="M581 4.5 L581 8 L584 9" stroke="#222" stroke-width="1" fill="none"/>
<polygon points="597,7 602,7 599.5,10" fill="#222"/>
<rect x="613.5" y="2.5" width="16" height="13" fill="#f8f8ff" stroke="#3a70c8" stroke-width="1"/><path d="M615 7 L619 6 L623 8 L628 6" stroke="#c04040" fill="none"/><path d="M615 12 L619 10 L623 12 L628 10" stroke="#30a030" fill="none"/>
<polygon points="636,7 641,7 638.5,10" fill="#222"/>
<polygon points="665,2 665,14 668,11 671,16 673,15 670,10 674,10" fill="#222"/>
<rect x="690" y="8" width="15" height="1" fill="#444"/><rect x="697" y="1" width="1" height="15" fill="#444"/>
<rect x="731" y="2" width="1" height="12" fill="#444"/>
<rect x="754" y="8" width="12" height="1" fill="#444"/>
<line x1="782" y1="15" x2="795" y2="2" stroke="#444" stroke-width="1"/>
<path d="M808 12 L820 2 M810 14 L822 4 M812 7 L815 12 M816 5 L819 10" stroke="#555" stroke-width="1" fill="none"/>
<text x="818" y="17" font-size="6" fill="#444" text-anchor="start" font-weight="bold" >E</text>
<line x1="837" y1="2.5" x2="849" y2="2.5" stroke="#777" stroke-width="1" stroke-dasharray="1,1"/>
<line x1="837" y1="5.5" x2="849" y2="5.5" stroke="#777" stroke-width="1" stroke-dasharray="1,1"/>
<line x1="837" y1="8.5" x2="849" y2="8.5" stroke="#777" stroke-width="1" stroke-dasharray="1,1"/>
<line x1="837" y1="11.5" x2="849" y2="11.5" stroke="#777" stroke-width="1" stroke-dasharray="1,1"/>
<text x="847" y="17" font-size="6" fill="#444" text-anchor="start" font-weight="bold" >F</text>
<text x="866" y="13" font-size="11" fill="#555" text-anchor="start" font-weight="bold" >A</text>
<rect x="893.5" y="1.5" width="13" height="13" fill="none" stroke="#666" stroke-width="1" stroke-dasharray="1,1"/>
<text x="896" y="13" font-size="11" fill="#555" text-anchor="start" font-weight="bold" >T</text>
<polygon points="921,4 925,1 929,4" fill="#333"/><path d="M925 3 L932 11" stroke="#333" stroke-width="2"/><polygon points="928,12 932,9 935,12 931,15" fill="#333"/>
<polygon points="941,7 947,7 944,10" fill="#222"/>
<text x="968" y="12" font-size="9.6" fill="#333" text-anchor="start" textLength="13" lengthAdjust="spacingAndGlyphs" stroke="#333" stroke-width="0.25" >M1</text>
<text x="997" y="12" font-size="9.6" fill="#333" text-anchor="start" textLength="13" lengthAdjust="spacingAndGlyphs" stroke="#333" stroke-width="0.25" >M5</text>
<text x="1023" y="12" font-size="9.6" fill="#333" text-anchor="start" textLength="17" lengthAdjust="spacingAndGlyphs" stroke="#333" stroke-width="0.25" >M15</text>
<text x="1051" y="12" font-size="9.6" fill="#333" text-anchor="start" textLength="18" lengthAdjust="spacingAndGlyphs" stroke="#333" stroke-width="0.25" >M30</text>
<text x="1081" y="12" font-size="9.6" fill="#333" text-anchor="start" textLength="12" lengthAdjust="spacingAndGlyphs" stroke="#333" stroke-width="0.25" >H1</text>
<text x="1108" y="12" font-size="9.6" fill="#333" text-anchor="start" textLength="13" lengthAdjust="spacingAndGlyphs" stroke="#333" stroke-width="0.25" >H4</text>
<text x="1137" y="12" font-size="9.6" fill="#333" text-anchor="start" textLength="12" lengthAdjust="spacingAndGlyphs" stroke="#333" stroke-width="0.25" >D1</text>
<text x="1165" y="12" font-size="9.6" fill="#333" text-anchor="start" textLength="14" lengthAdjust="spacingAndGlyphs" stroke="#333" stroke-width="0.25" >W1</text>
<text x="1191" y="12" font-size="9.6" fill="#333" text-anchor="start" textLength="15" lengthAdjust="spacingAndGlyphs" stroke="#333" stroke-width="0.25" >MN</text>
<circle cx="1685" cy="5.5" r="3.8" fill="none" stroke="#2a68d0" stroke-width="1.5"/><line x1="1682" y1="8.5" x2="1677.5" y2="13" stroke="#2a68d0" stroke-width="2.2"/>
<ellipse cx="1717" cy="5.5" rx="6.5" ry="5" fill="#e4e4ec" stroke="#8a8a8a" stroke-width="1.2"/><path d="M1719 10 L1721 12 L1720 9" fill="#888"/><ellipse cx="1709" cy="9.5" rx="5.5" ry="4.2" fill="#e4e4ec" stroke="#8a8a8a" stroke-width="1.2"/><path d="M1706 13 L1705 15 L1709 13" fill="#888"/>
<polygon points="1506,25 1516,25 1511,30" fill="#a0a0a0"/>
</svg></body></html>
